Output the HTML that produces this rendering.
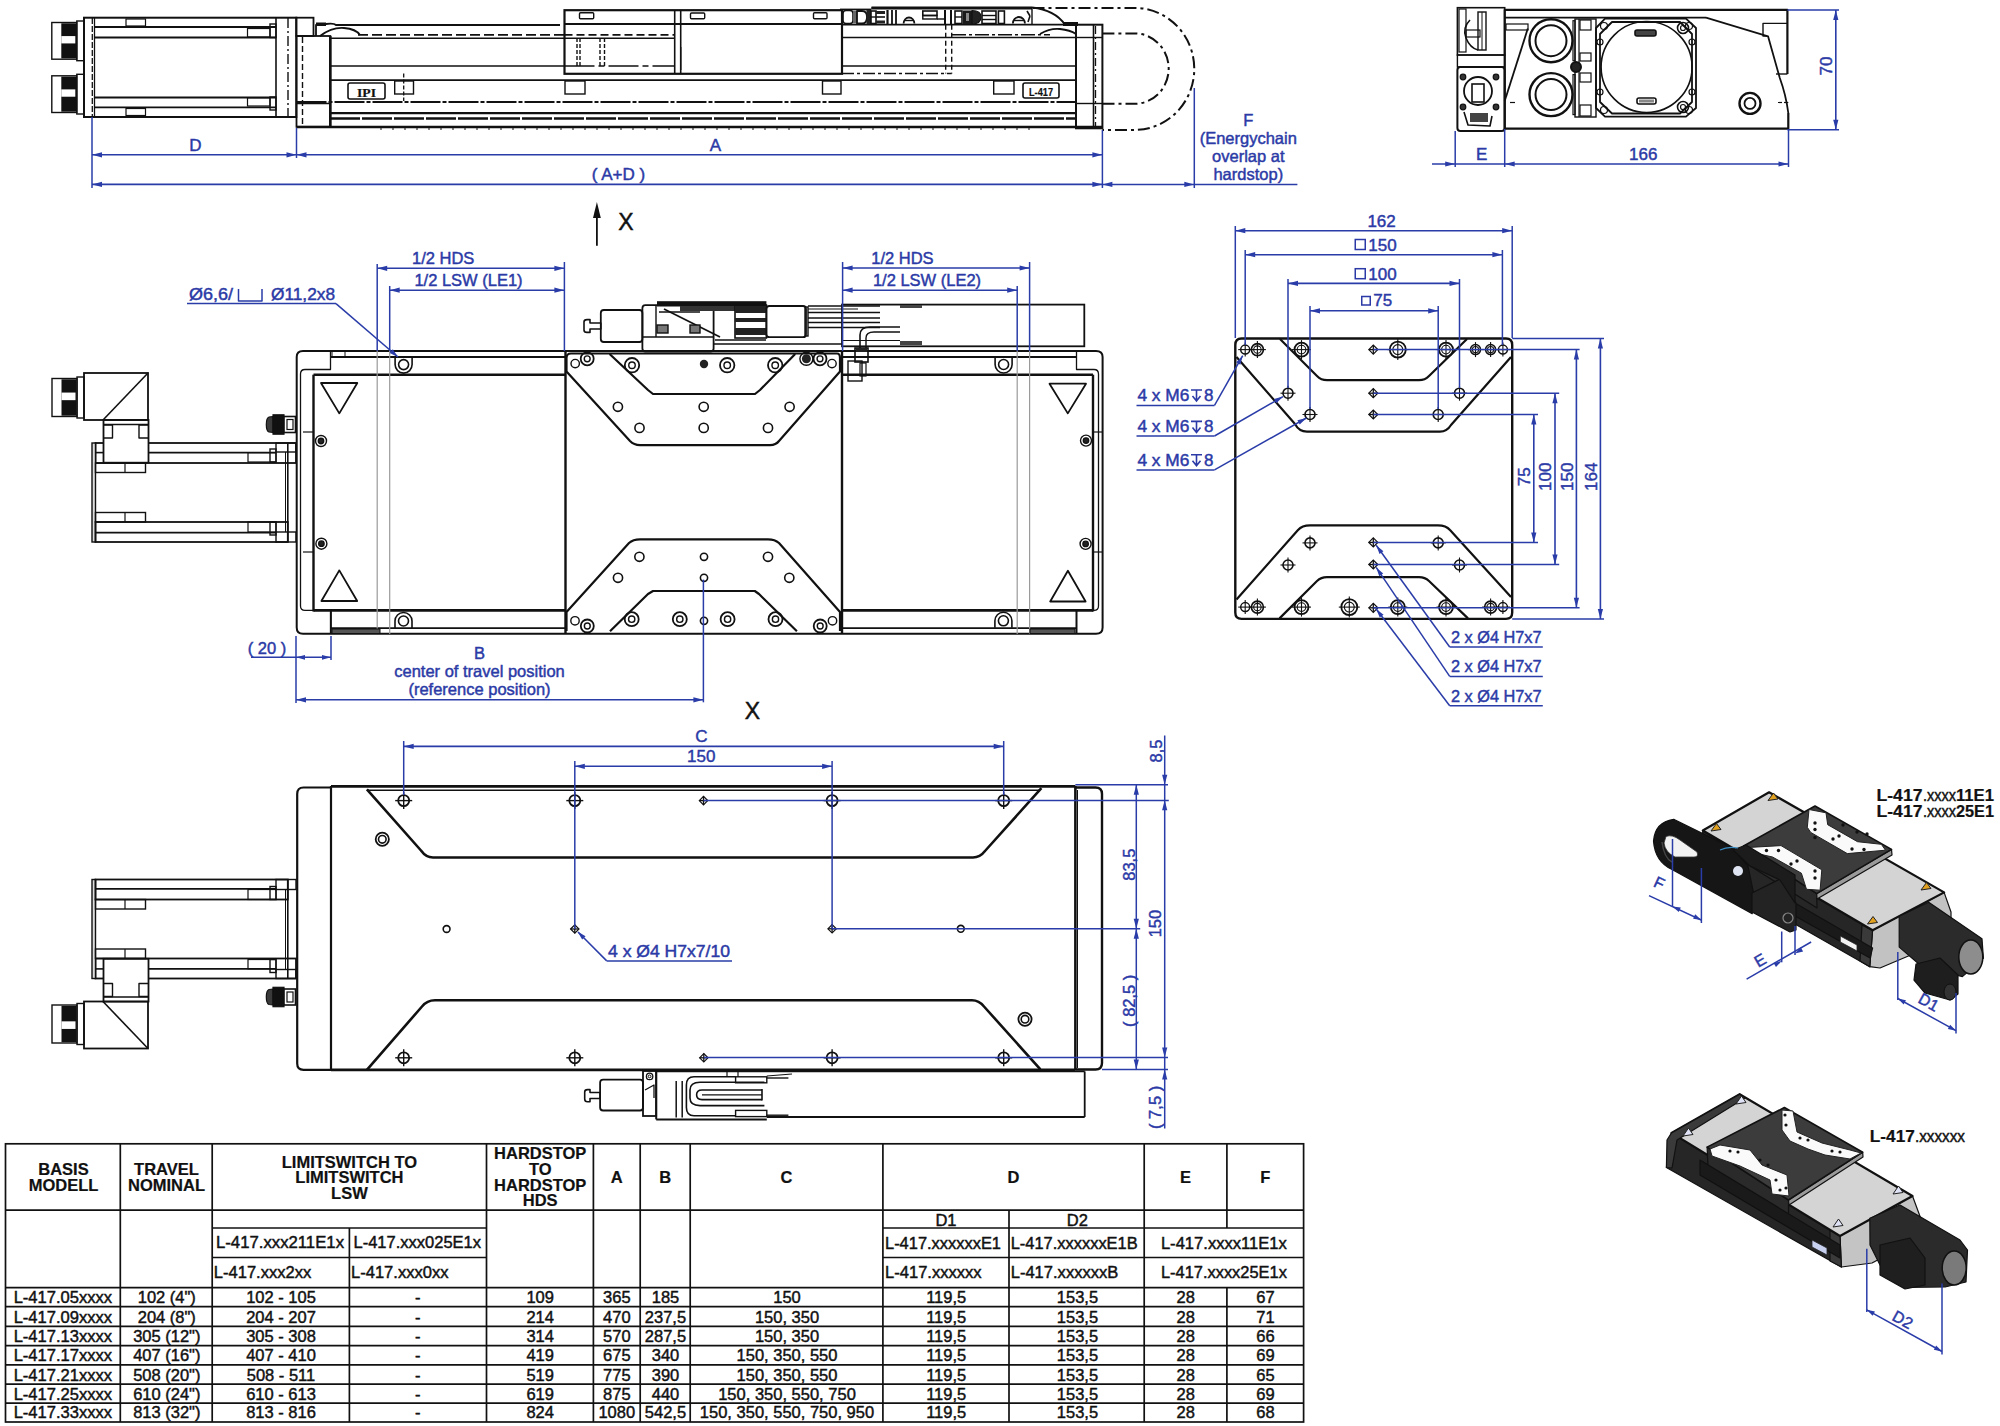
<!DOCTYPE html>
<html><head><meta charset="utf-8"><style>
html,body{margin:0;padding:0;background:#fff;width:2000px;height:1426px;overflow:hidden}
svg{display:block}

</style></head><body>
<svg width="2000" height="1426" viewBox="0 0 2000 1426">
<rect x="0" y="0" width="2000" height="1426" fill="#fff"/>
<rect x="5.5" y="1143.8" width="1298.1" height="278.2" fill="none" stroke="#111" stroke-width="1.7"/>
<line x1="5.5" y1="1210.2" x2="1303.6" y2="1210.2" stroke="#111" stroke-width="1.7" stroke-linecap="butt"/>
<line x1="5.5" y1="1287.7" x2="1303.6" y2="1287.7" stroke="#111" stroke-width="1.7" stroke-linecap="butt"/>
<line x1="5.5" y1="1306.7" x2="1303.6" y2="1306.7" stroke="#111" stroke-width="1.7" stroke-linecap="butt"/>
<line x1="5.5" y1="1326.4" x2="1303.6" y2="1326.4" stroke="#111" stroke-width="1.7" stroke-linecap="butt"/>
<line x1="5.5" y1="1345.6" x2="1303.6" y2="1345.6" stroke="#111" stroke-width="1.7" stroke-linecap="butt"/>
<line x1="5.5" y1="1364.8" x2="1303.6" y2="1364.8" stroke="#111" stroke-width="1.7" stroke-linecap="butt"/>
<line x1="5.5" y1="1384.2" x2="1303.6" y2="1384.2" stroke="#111" stroke-width="1.7" stroke-linecap="butt"/>
<line x1="5.5" y1="1403.2" x2="1303.6" y2="1403.2" stroke="#111" stroke-width="1.7" stroke-linecap="butt"/>
<line x1="212.2" y1="1228" x2="486.5" y2="1228" stroke="#111" stroke-width="1.7" stroke-linecap="butt"/>
<line x1="882.9" y1="1228" x2="1303.6" y2="1228" stroke="#111" stroke-width="1.7" stroke-linecap="butt"/>
<line x1="212.2" y1="1257.5" x2="486.5" y2="1257.5" stroke="#111" stroke-width="1.7" stroke-linecap="butt"/>
<line x1="882.9" y1="1257.5" x2="1303.6" y2="1257.5" stroke="#111" stroke-width="1.7" stroke-linecap="butt"/>
<line x1="120.3" y1="1143.8" x2="120.3" y2="1422" stroke="#111" stroke-width="1.7" stroke-linecap="butt"/>
<line x1="212.2" y1="1143.8" x2="212.2" y2="1422" stroke="#111" stroke-width="1.7" stroke-linecap="butt"/>
<line x1="486.5" y1="1143.8" x2="486.5" y2="1422" stroke="#111" stroke-width="1.7" stroke-linecap="butt"/>
<line x1="593.4" y1="1143.8" x2="593.4" y2="1422" stroke="#111" stroke-width="1.7" stroke-linecap="butt"/>
<line x1="640.2" y1="1143.8" x2="640.2" y2="1422" stroke="#111" stroke-width="1.7" stroke-linecap="butt"/>
<line x1="690.2" y1="1143.8" x2="690.2" y2="1422" stroke="#111" stroke-width="1.7" stroke-linecap="butt"/>
<line x1="882.9" y1="1143.8" x2="882.9" y2="1422" stroke="#111" stroke-width="1.7" stroke-linecap="butt"/>
<line x1="1144.2" y1="1143.8" x2="1144.2" y2="1422" stroke="#111" stroke-width="1.7" stroke-linecap="butt"/>
<line x1="349.4" y1="1228" x2="349.4" y2="1422" stroke="#111" stroke-width="1.7" stroke-linecap="butt"/>
<line x1="1009" y1="1210.2" x2="1009" y2="1422" stroke="#111" stroke-width="1.7" stroke-linecap="butt"/>
<line x1="1226.9" y1="1143.8" x2="1226.9" y2="1228" stroke="#111" stroke-width="1.7" stroke-linecap="butt"/>
<line x1="1226.9" y1="1287.7" x2="1226.9" y2="1422" stroke="#111" stroke-width="1.7" stroke-linecap="butt"/>
<text x="63.5" y="1174.6" font-size="16.5" fill="#111" text-anchor="middle" font-weight="bold" font-family="&quot;Liberation Sans&quot;, sans-serif" stroke="#111" stroke-width="0.2">BASIS</text>
<text x="63.5" y="1190.9" font-size="16.5" fill="#111" text-anchor="middle" font-weight="bold" font-family="&quot;Liberation Sans&quot;, sans-serif" stroke="#111" stroke-width="0.2">MODELL</text>
<text x="166.5" y="1174.6" font-size="16.5" fill="#111" text-anchor="middle" font-weight="bold" font-family="&quot;Liberation Sans&quot;, sans-serif" stroke="#111" stroke-width="0.2">TRAVEL</text>
<text x="166.5" y="1190.9" font-size="16.5" fill="#111" text-anchor="middle" font-weight="bold" font-family="&quot;Liberation Sans&quot;, sans-serif" stroke="#111" stroke-width="0.2">NOMINAL</text>
<text x="349.4" y="1167.5" font-size="16.5" fill="#111" text-anchor="middle" font-weight="bold" font-family="&quot;Liberation Sans&quot;, sans-serif" stroke="#111" stroke-width="0.2">LIMITSWITCH TO</text>
<text x="349.4" y="1183.1" font-size="16.5" fill="#111" text-anchor="middle" font-weight="bold" font-family="&quot;Liberation Sans&quot;, sans-serif" stroke="#111" stroke-width="0.2">LIMITSWITCH</text>
<text x="349.4" y="1198.6" font-size="16.5" fill="#111" text-anchor="middle" font-weight="bold" font-family="&quot;Liberation Sans&quot;, sans-serif" stroke="#111" stroke-width="0.2">LSW</text>
<text x="540.2" y="1159.4" font-size="16.5" fill="#111" text-anchor="middle" font-weight="bold" font-family="&quot;Liberation Sans&quot;, sans-serif" stroke="#111" stroke-width="0.2">HARDSTOP</text>
<text x="540.2" y="1174.95" font-size="16.5" fill="#111" text-anchor="middle" font-weight="bold" font-family="&quot;Liberation Sans&quot;, sans-serif" stroke="#111" stroke-width="0.2">TO</text>
<text x="540.2" y="1190.5" font-size="16.5" fill="#111" text-anchor="middle" font-weight="bold" font-family="&quot;Liberation Sans&quot;, sans-serif" stroke="#111" stroke-width="0.2">HARDSTOP</text>
<text x="540.2" y="1206.05" font-size="16.5" fill="#111" text-anchor="middle" font-weight="bold" font-family="&quot;Liberation Sans&quot;, sans-serif" stroke="#111" stroke-width="0.2">HDS</text>
<text x="616.8" y="1183.2" font-size="16.5" fill="#111" text-anchor="middle" font-weight="bold" font-family="&quot;Liberation Sans&quot;, sans-serif" stroke="#111" stroke-width="0.2">A</text>
<text x="665.2" y="1183.2" font-size="16.5" fill="#111" text-anchor="middle" font-weight="bold" font-family="&quot;Liberation Sans&quot;, sans-serif" stroke="#111" stroke-width="0.2">B</text>
<text x="786.5" y="1183.2" font-size="16.5" fill="#111" text-anchor="middle" font-weight="bold" font-family="&quot;Liberation Sans&quot;, sans-serif" stroke="#111" stroke-width="0.2">C</text>
<text x="1013.5" y="1183.2" font-size="16.5" fill="#111" text-anchor="middle" font-weight="bold" font-family="&quot;Liberation Sans&quot;, sans-serif" stroke="#111" stroke-width="0.2">D</text>
<text x="1185.6" y="1183.2" font-size="16.5" fill="#111" text-anchor="middle" font-weight="bold" font-family="&quot;Liberation Sans&quot;, sans-serif" stroke="#111" stroke-width="0.2">E</text>
<text x="1265.2" y="1183.2" font-size="16.5" fill="#111" text-anchor="middle" font-weight="bold" font-family="&quot;Liberation Sans&quot;, sans-serif" stroke="#111" stroke-width="0.2">F</text>
<text x="216" y="1248.2" font-size="16.5" fill="#111" text-anchor="start" font-weight="normal" font-family="&quot;Liberation Sans&quot;, sans-serif" textLength="128" lengthAdjust="spacingAndGlyphs" stroke="#111" stroke-width="0.45">L-417.xxx211E1x</text>
<text x="353.5" y="1248.2" font-size="16.5" fill="#111" text-anchor="start" font-weight="normal" font-family="&quot;Liberation Sans&quot;, sans-serif" textLength="127.5" lengthAdjust="spacingAndGlyphs" stroke="#111" stroke-width="0.45">L-417.xxx025E1x</text>
<text x="213.8" y="1278" font-size="16.5" fill="#111" text-anchor="start" font-weight="normal" font-family="&quot;Liberation Sans&quot;, sans-serif" textLength="97.5" lengthAdjust="spacingAndGlyphs" stroke="#111" stroke-width="0.45">L-417.xxx2xx</text>
<text x="351" y="1278" font-size="16.5" fill="#111" text-anchor="start" font-weight="normal" font-family="&quot;Liberation Sans&quot;, sans-serif" textLength="97.5" lengthAdjust="spacingAndGlyphs" stroke="#111" stroke-width="0.45">L-417.xxx0xx</text>
<text x="946" y="1225.6" font-size="16.5" fill="#111" text-anchor="middle" font-weight="normal" font-family="&quot;Liberation Sans&quot;, sans-serif" stroke="#111" stroke-width="0.45">D1</text>
<text x="1077.3" y="1225.6" font-size="16.5" fill="#111" text-anchor="middle" font-weight="normal" font-family="&quot;Liberation Sans&quot;, sans-serif" stroke="#111" stroke-width="0.45">D2</text>
<text x="885" y="1248.6" font-size="16.5" fill="#111" text-anchor="start" font-weight="normal" font-family="&quot;Liberation Sans&quot;, sans-serif" textLength="116" lengthAdjust="spacingAndGlyphs" stroke="#111" stroke-width="0.45">L-417.xxxxxxE1</text>
<text x="1010.7" y="1248.6" font-size="16.5" fill="#111" text-anchor="start" font-weight="normal" font-family="&quot;Liberation Sans&quot;, sans-serif" textLength="127" lengthAdjust="spacingAndGlyphs" stroke="#111" stroke-width="0.45">L-417.xxxxxxE1B</text>
<text x="1160.9" y="1248.6" font-size="16.5" fill="#111" text-anchor="start" font-weight="normal" font-family="&quot;Liberation Sans&quot;, sans-serif" textLength="126" lengthAdjust="spacingAndGlyphs" stroke="#111" stroke-width="0.45">L-417.xxxx11E1x</text>
<text x="885" y="1278" font-size="16.5" fill="#111" text-anchor="start" font-weight="normal" font-family="&quot;Liberation Sans&quot;, sans-serif" textLength="96.6" lengthAdjust="spacingAndGlyphs" stroke="#111" stroke-width="0.45">L-417.xxxxxx</text>
<text x="1010.7" y="1278" font-size="16.5" fill="#111" text-anchor="start" font-weight="normal" font-family="&quot;Liberation Sans&quot;, sans-serif" textLength="107.6" lengthAdjust="spacingAndGlyphs" stroke="#111" stroke-width="0.45">L-417.xxxxxxB</text>
<text x="1160.9" y="1278" font-size="16.5" fill="#111" text-anchor="start" font-weight="normal" font-family="&quot;Liberation Sans&quot;, sans-serif" textLength="126" lengthAdjust="spacingAndGlyphs" stroke="#111" stroke-width="0.45">L-417.xxxx25E1x</text>
<text x="62.9" y="1303.1" font-size="16.5" fill="#111" text-anchor="middle" font-weight="normal" font-family="&quot;Liberation Sans&quot;, sans-serif" textLength="98.5" lengthAdjust="spacingAndGlyphs" stroke="#111" stroke-width="0.45">L-417.05xxxx</text>
<text x="166.8" y="1303.1" font-size="16.5" fill="#111" text-anchor="middle" font-weight="normal" font-family="&quot;Liberation Sans&quot;, sans-serif" stroke="#111" stroke-width="0.45">102 (4")</text>
<text x="281" y="1303.1" font-size="16.5" fill="#111" text-anchor="middle" font-weight="normal" font-family="&quot;Liberation Sans&quot;, sans-serif" stroke="#111" stroke-width="0.45">102 - 105</text>
<text x="417.8" y="1303.1" font-size="16.5" fill="#111" text-anchor="middle" font-weight="normal" font-family="&quot;Liberation Sans&quot;, sans-serif" stroke="#111" stroke-width="0.45">-</text>
<text x="540.2" y="1303.1" font-size="16.5" fill="#111" text-anchor="middle" font-weight="normal" font-family="&quot;Liberation Sans&quot;, sans-serif" stroke="#111" stroke-width="0.45">109</text>
<text x="616.8" y="1303.1" font-size="16.5" fill="#111" text-anchor="middle" font-weight="normal" font-family="&quot;Liberation Sans&quot;, sans-serif" stroke="#111" stroke-width="0.45">365</text>
<text x="665.5" y="1303.1" font-size="16.5" fill="#111" text-anchor="middle" font-weight="normal" font-family="&quot;Liberation Sans&quot;, sans-serif" stroke="#111" stroke-width="0.45">185</text>
<text x="787" y="1303.1" font-size="16.5" fill="#111" text-anchor="middle" font-weight="normal" font-family="&quot;Liberation Sans&quot;, sans-serif" stroke="#111" stroke-width="0.45">150</text>
<text x="946.2" y="1303.1" font-size="16.5" fill="#111" text-anchor="middle" font-weight="normal" font-family="&quot;Liberation Sans&quot;, sans-serif" stroke="#111" stroke-width="0.45">119,5</text>
<text x="1077.5" y="1303.1" font-size="16.5" fill="#111" text-anchor="middle" font-weight="normal" font-family="&quot;Liberation Sans&quot;, sans-serif" stroke="#111" stroke-width="0.45">153,5</text>
<text x="1185.7" y="1303.1" font-size="16.5" fill="#111" text-anchor="middle" font-weight="normal" font-family="&quot;Liberation Sans&quot;, sans-serif" stroke="#111" stroke-width="0.45">28</text>
<text x="1265.5" y="1303.1" font-size="16.5" fill="#111" text-anchor="middle" font-weight="normal" font-family="&quot;Liberation Sans&quot;, sans-serif" stroke="#111" stroke-width="0.45">67</text>
<text x="62.9" y="1322.8" font-size="16.5" fill="#111" text-anchor="middle" font-weight="normal" font-family="&quot;Liberation Sans&quot;, sans-serif" textLength="98.5" lengthAdjust="spacingAndGlyphs" stroke="#111" stroke-width="0.45">L-417.09xxxx</text>
<text x="166.8" y="1322.8" font-size="16.5" fill="#111" text-anchor="middle" font-weight="normal" font-family="&quot;Liberation Sans&quot;, sans-serif" stroke="#111" stroke-width="0.45">204 (8")</text>
<text x="281" y="1322.8" font-size="16.5" fill="#111" text-anchor="middle" font-weight="normal" font-family="&quot;Liberation Sans&quot;, sans-serif" stroke="#111" stroke-width="0.45">204 - 207</text>
<text x="417.8" y="1322.8" font-size="16.5" fill="#111" text-anchor="middle" font-weight="normal" font-family="&quot;Liberation Sans&quot;, sans-serif" stroke="#111" stroke-width="0.45">-</text>
<text x="540.2" y="1322.8" font-size="16.5" fill="#111" text-anchor="middle" font-weight="normal" font-family="&quot;Liberation Sans&quot;, sans-serif" stroke="#111" stroke-width="0.45">214</text>
<text x="616.8" y="1322.8" font-size="16.5" fill="#111" text-anchor="middle" font-weight="normal" font-family="&quot;Liberation Sans&quot;, sans-serif" stroke="#111" stroke-width="0.45">470</text>
<text x="665.5" y="1322.8" font-size="16.5" fill="#111" text-anchor="middle" font-weight="normal" font-family="&quot;Liberation Sans&quot;, sans-serif" stroke="#111" stroke-width="0.45">237,5</text>
<text x="787" y="1322.8" font-size="16.5" fill="#111" text-anchor="middle" font-weight="normal" font-family="&quot;Liberation Sans&quot;, sans-serif" stroke="#111" stroke-width="0.45">150, 350</text>
<text x="946.2" y="1322.8" font-size="16.5" fill="#111" text-anchor="middle" font-weight="normal" font-family="&quot;Liberation Sans&quot;, sans-serif" stroke="#111" stroke-width="0.45">119,5</text>
<text x="1077.5" y="1322.8" font-size="16.5" fill="#111" text-anchor="middle" font-weight="normal" font-family="&quot;Liberation Sans&quot;, sans-serif" stroke="#111" stroke-width="0.45">153,5</text>
<text x="1185.7" y="1322.8" font-size="16.5" fill="#111" text-anchor="middle" font-weight="normal" font-family="&quot;Liberation Sans&quot;, sans-serif" stroke="#111" stroke-width="0.45">28</text>
<text x="1265.5" y="1322.8" font-size="16.5" fill="#111" text-anchor="middle" font-weight="normal" font-family="&quot;Liberation Sans&quot;, sans-serif" stroke="#111" stroke-width="0.45">71</text>
<text x="62.9" y="1342" font-size="16.5" fill="#111" text-anchor="middle" font-weight="normal" font-family="&quot;Liberation Sans&quot;, sans-serif" textLength="98.5" lengthAdjust="spacingAndGlyphs" stroke="#111" stroke-width="0.45">L-417.13xxxx</text>
<text x="166.8" y="1342" font-size="16.5" fill="#111" text-anchor="middle" font-weight="normal" font-family="&quot;Liberation Sans&quot;, sans-serif" stroke="#111" stroke-width="0.45">305 (12")</text>
<text x="281" y="1342" font-size="16.5" fill="#111" text-anchor="middle" font-weight="normal" font-family="&quot;Liberation Sans&quot;, sans-serif" stroke="#111" stroke-width="0.45">305 - 308</text>
<text x="417.8" y="1342" font-size="16.5" fill="#111" text-anchor="middle" font-weight="normal" font-family="&quot;Liberation Sans&quot;, sans-serif" stroke="#111" stroke-width="0.45">-</text>
<text x="540.2" y="1342" font-size="16.5" fill="#111" text-anchor="middle" font-weight="normal" font-family="&quot;Liberation Sans&quot;, sans-serif" stroke="#111" stroke-width="0.45">314</text>
<text x="616.8" y="1342" font-size="16.5" fill="#111" text-anchor="middle" font-weight="normal" font-family="&quot;Liberation Sans&quot;, sans-serif" stroke="#111" stroke-width="0.45">570</text>
<text x="665.5" y="1342" font-size="16.5" fill="#111" text-anchor="middle" font-weight="normal" font-family="&quot;Liberation Sans&quot;, sans-serif" stroke="#111" stroke-width="0.45">287,5</text>
<text x="787" y="1342" font-size="16.5" fill="#111" text-anchor="middle" font-weight="normal" font-family="&quot;Liberation Sans&quot;, sans-serif" stroke="#111" stroke-width="0.45">150, 350</text>
<text x="946.2" y="1342" font-size="16.5" fill="#111" text-anchor="middle" font-weight="normal" font-family="&quot;Liberation Sans&quot;, sans-serif" stroke="#111" stroke-width="0.45">119,5</text>
<text x="1077.5" y="1342" font-size="16.5" fill="#111" text-anchor="middle" font-weight="normal" font-family="&quot;Liberation Sans&quot;, sans-serif" stroke="#111" stroke-width="0.45">153,5</text>
<text x="1185.7" y="1342" font-size="16.5" fill="#111" text-anchor="middle" font-weight="normal" font-family="&quot;Liberation Sans&quot;, sans-serif" stroke="#111" stroke-width="0.45">28</text>
<text x="1265.5" y="1342" font-size="16.5" fill="#111" text-anchor="middle" font-weight="normal" font-family="&quot;Liberation Sans&quot;, sans-serif" stroke="#111" stroke-width="0.45">66</text>
<text x="62.9" y="1361.2" font-size="16.5" fill="#111" text-anchor="middle" font-weight="normal" font-family="&quot;Liberation Sans&quot;, sans-serif" textLength="98.5" lengthAdjust="spacingAndGlyphs" stroke="#111" stroke-width="0.45">L-417.17xxxx</text>
<text x="166.8" y="1361.2" font-size="16.5" fill="#111" text-anchor="middle" font-weight="normal" font-family="&quot;Liberation Sans&quot;, sans-serif" stroke="#111" stroke-width="0.45">407 (16")</text>
<text x="281" y="1361.2" font-size="16.5" fill="#111" text-anchor="middle" font-weight="normal" font-family="&quot;Liberation Sans&quot;, sans-serif" stroke="#111" stroke-width="0.45">407 - 410</text>
<text x="417.8" y="1361.2" font-size="16.5" fill="#111" text-anchor="middle" font-weight="normal" font-family="&quot;Liberation Sans&quot;, sans-serif" stroke="#111" stroke-width="0.45">-</text>
<text x="540.2" y="1361.2" font-size="16.5" fill="#111" text-anchor="middle" font-weight="normal" font-family="&quot;Liberation Sans&quot;, sans-serif" stroke="#111" stroke-width="0.45">419</text>
<text x="616.8" y="1361.2" font-size="16.5" fill="#111" text-anchor="middle" font-weight="normal" font-family="&quot;Liberation Sans&quot;, sans-serif" stroke="#111" stroke-width="0.45">675</text>
<text x="665.5" y="1361.2" font-size="16.5" fill="#111" text-anchor="middle" font-weight="normal" font-family="&quot;Liberation Sans&quot;, sans-serif" stroke="#111" stroke-width="0.45">340</text>
<text x="787" y="1361.2" font-size="16.5" fill="#111" text-anchor="middle" font-weight="normal" font-family="&quot;Liberation Sans&quot;, sans-serif" stroke="#111" stroke-width="0.45">150, 350, 550</text>
<text x="946.2" y="1361.2" font-size="16.5" fill="#111" text-anchor="middle" font-weight="normal" font-family="&quot;Liberation Sans&quot;, sans-serif" stroke="#111" stroke-width="0.45">119,5</text>
<text x="1077.5" y="1361.2" font-size="16.5" fill="#111" text-anchor="middle" font-weight="normal" font-family="&quot;Liberation Sans&quot;, sans-serif" stroke="#111" stroke-width="0.45">153,5</text>
<text x="1185.7" y="1361.2" font-size="16.5" fill="#111" text-anchor="middle" font-weight="normal" font-family="&quot;Liberation Sans&quot;, sans-serif" stroke="#111" stroke-width="0.45">28</text>
<text x="1265.5" y="1361.2" font-size="16.5" fill="#111" text-anchor="middle" font-weight="normal" font-family="&quot;Liberation Sans&quot;, sans-serif" stroke="#111" stroke-width="0.45">69</text>
<text x="62.9" y="1380.6" font-size="16.5" fill="#111" text-anchor="middle" font-weight="normal" font-family="&quot;Liberation Sans&quot;, sans-serif" textLength="98.5" lengthAdjust="spacingAndGlyphs" stroke="#111" stroke-width="0.45">L-417.21xxxx</text>
<text x="166.8" y="1380.6" font-size="16.5" fill="#111" text-anchor="middle" font-weight="normal" font-family="&quot;Liberation Sans&quot;, sans-serif" stroke="#111" stroke-width="0.45">508 (20")</text>
<text x="281" y="1380.6" font-size="16.5" fill="#111" text-anchor="middle" font-weight="normal" font-family="&quot;Liberation Sans&quot;, sans-serif" stroke="#111" stroke-width="0.45">508 - 511</text>
<text x="417.8" y="1380.6" font-size="16.5" fill="#111" text-anchor="middle" font-weight="normal" font-family="&quot;Liberation Sans&quot;, sans-serif" stroke="#111" stroke-width="0.45">-</text>
<text x="540.2" y="1380.6" font-size="16.5" fill="#111" text-anchor="middle" font-weight="normal" font-family="&quot;Liberation Sans&quot;, sans-serif" stroke="#111" stroke-width="0.45">519</text>
<text x="616.8" y="1380.6" font-size="16.5" fill="#111" text-anchor="middle" font-weight="normal" font-family="&quot;Liberation Sans&quot;, sans-serif" stroke="#111" stroke-width="0.45">775</text>
<text x="665.5" y="1380.6" font-size="16.5" fill="#111" text-anchor="middle" font-weight="normal" font-family="&quot;Liberation Sans&quot;, sans-serif" stroke="#111" stroke-width="0.45">390</text>
<text x="787" y="1380.6" font-size="16.5" fill="#111" text-anchor="middle" font-weight="normal" font-family="&quot;Liberation Sans&quot;, sans-serif" stroke="#111" stroke-width="0.45">150, 350, 550</text>
<text x="946.2" y="1380.6" font-size="16.5" fill="#111" text-anchor="middle" font-weight="normal" font-family="&quot;Liberation Sans&quot;, sans-serif" stroke="#111" stroke-width="0.45">119,5</text>
<text x="1077.5" y="1380.6" font-size="16.5" fill="#111" text-anchor="middle" font-weight="normal" font-family="&quot;Liberation Sans&quot;, sans-serif" stroke="#111" stroke-width="0.45">153,5</text>
<text x="1185.7" y="1380.6" font-size="16.5" fill="#111" text-anchor="middle" font-weight="normal" font-family="&quot;Liberation Sans&quot;, sans-serif" stroke="#111" stroke-width="0.45">28</text>
<text x="1265.5" y="1380.6" font-size="16.5" fill="#111" text-anchor="middle" font-weight="normal" font-family="&quot;Liberation Sans&quot;, sans-serif" stroke="#111" stroke-width="0.45">65</text>
<text x="62.9" y="1399.6" font-size="16.5" fill="#111" text-anchor="middle" font-weight="normal" font-family="&quot;Liberation Sans&quot;, sans-serif" textLength="98.5" lengthAdjust="spacingAndGlyphs" stroke="#111" stroke-width="0.45">L-417.25xxxx</text>
<text x="166.8" y="1399.6" font-size="16.5" fill="#111" text-anchor="middle" font-weight="normal" font-family="&quot;Liberation Sans&quot;, sans-serif" stroke="#111" stroke-width="0.45">610 (24")</text>
<text x="281" y="1399.6" font-size="16.5" fill="#111" text-anchor="middle" font-weight="normal" font-family="&quot;Liberation Sans&quot;, sans-serif" stroke="#111" stroke-width="0.45">610 - 613</text>
<text x="417.8" y="1399.6" font-size="16.5" fill="#111" text-anchor="middle" font-weight="normal" font-family="&quot;Liberation Sans&quot;, sans-serif" stroke="#111" stroke-width="0.45">-</text>
<text x="540.2" y="1399.6" font-size="16.5" fill="#111" text-anchor="middle" font-weight="normal" font-family="&quot;Liberation Sans&quot;, sans-serif" stroke="#111" stroke-width="0.45">619</text>
<text x="616.8" y="1399.6" font-size="16.5" fill="#111" text-anchor="middle" font-weight="normal" font-family="&quot;Liberation Sans&quot;, sans-serif" stroke="#111" stroke-width="0.45">875</text>
<text x="665.5" y="1399.6" font-size="16.5" fill="#111" text-anchor="middle" font-weight="normal" font-family="&quot;Liberation Sans&quot;, sans-serif" stroke="#111" stroke-width="0.45">440</text>
<text x="787" y="1399.6" font-size="16.5" fill="#111" text-anchor="middle" font-weight="normal" font-family="&quot;Liberation Sans&quot;, sans-serif" stroke="#111" stroke-width="0.45">150, 350, 550, 750</text>
<text x="946.2" y="1399.6" font-size="16.5" fill="#111" text-anchor="middle" font-weight="normal" font-family="&quot;Liberation Sans&quot;, sans-serif" stroke="#111" stroke-width="0.45">119,5</text>
<text x="1077.5" y="1399.6" font-size="16.5" fill="#111" text-anchor="middle" font-weight="normal" font-family="&quot;Liberation Sans&quot;, sans-serif" stroke="#111" stroke-width="0.45">153,5</text>
<text x="1185.7" y="1399.6" font-size="16.5" fill="#111" text-anchor="middle" font-weight="normal" font-family="&quot;Liberation Sans&quot;, sans-serif" stroke="#111" stroke-width="0.45">28</text>
<text x="1265.5" y="1399.6" font-size="16.5" fill="#111" text-anchor="middle" font-weight="normal" font-family="&quot;Liberation Sans&quot;, sans-serif" stroke="#111" stroke-width="0.45">69</text>
<text x="62.9" y="1418.4" font-size="16.5" fill="#111" text-anchor="middle" font-weight="normal" font-family="&quot;Liberation Sans&quot;, sans-serif" textLength="98.5" lengthAdjust="spacingAndGlyphs" stroke="#111" stroke-width="0.45">L-417.33xxxx</text>
<text x="166.8" y="1418.4" font-size="16.5" fill="#111" text-anchor="middle" font-weight="normal" font-family="&quot;Liberation Sans&quot;, sans-serif" stroke="#111" stroke-width="0.45">813 (32")</text>
<text x="281" y="1418.4" font-size="16.5" fill="#111" text-anchor="middle" font-weight="normal" font-family="&quot;Liberation Sans&quot;, sans-serif" stroke="#111" stroke-width="0.45">813 - 816</text>
<text x="417.8" y="1418.4" font-size="16.5" fill="#111" text-anchor="middle" font-weight="normal" font-family="&quot;Liberation Sans&quot;, sans-serif" stroke="#111" stroke-width="0.45">-</text>
<text x="540.2" y="1418.4" font-size="16.5" fill="#111" text-anchor="middle" font-weight="normal" font-family="&quot;Liberation Sans&quot;, sans-serif" stroke="#111" stroke-width="0.45">824</text>
<text x="616.8" y="1418.4" font-size="16.5" fill="#111" text-anchor="middle" font-weight="normal" font-family="&quot;Liberation Sans&quot;, sans-serif" stroke="#111" stroke-width="0.45">1080</text>
<text x="665.5" y="1418.4" font-size="16.5" fill="#111" text-anchor="middle" font-weight="normal" font-family="&quot;Liberation Sans&quot;, sans-serif" stroke="#111" stroke-width="0.45">542,5</text>
<text x="787" y="1418.4" font-size="16.5" fill="#111" text-anchor="middle" font-weight="normal" font-family="&quot;Liberation Sans&quot;, sans-serif" stroke="#111" stroke-width="0.45">150, 350, 550, 750, 950</text>
<text x="946.2" y="1418.4" font-size="16.5" fill="#111" text-anchor="middle" font-weight="normal" font-family="&quot;Liberation Sans&quot;, sans-serif" stroke="#111" stroke-width="0.45">119,5</text>
<text x="1077.5" y="1418.4" font-size="16.5" fill="#111" text-anchor="middle" font-weight="normal" font-family="&quot;Liberation Sans&quot;, sans-serif" stroke="#111" stroke-width="0.45">153,5</text>
<text x="1185.7" y="1418.4" font-size="16.5" fill="#111" text-anchor="middle" font-weight="normal" font-family="&quot;Liberation Sans&quot;, sans-serif" stroke="#111" stroke-width="0.45">28</text>
<text x="1265.5" y="1418.4" font-size="16.5" fill="#111" text-anchor="middle" font-weight="normal" font-family="&quot;Liberation Sans&quot;, sans-serif" stroke="#111" stroke-width="0.45">68</text>
<rect x="51.8" y="22.5" width="25" height="36.7" fill="none" stroke="#111" stroke-width="1.4"/>
<rect x="61.3" y="23.3" width="15" height="35.1" fill="#111"/>
<rect x="61.3" y="36.08" width="14" height="7.34" fill="#fff"/>
<rect x="76.8" y="21" width="7" height="39.7" fill="none" stroke="#111" stroke-width="1.4"/>
<rect x="51.8" y="75.8" width="25" height="36.7" fill="none" stroke="#111" stroke-width="1.4"/>
<rect x="61.3" y="76.6" width="15" height="35.1" fill="#111"/>
<rect x="61.3" y="89.38" width="14" height="7.34" fill="#fff"/>
<rect x="76.8" y="74.3" width="7" height="39.7" fill="none" stroke="#111" stroke-width="1.4"/>
<rect x="84" y="17.7" width="212.3" height="99.3" fill="none" stroke="#111" stroke-width="2.0"/>
<line x1="92.3" y1="18" x2="92.3" y2="117" stroke="#111" stroke-width="1.3" stroke-dasharray="6 2" stroke-linecap="butt"/>
<line x1="94.5" y1="18" x2="94.5" y2="117" stroke="#111" stroke-width="1.3" stroke-linecap="butt"/>
<line x1="94.5" y1="27" x2="276" y2="27" stroke="#111" stroke-width="1.8" stroke-linecap="butt"/>
<line x1="94.5" y1="37.5" x2="276" y2="37.5" stroke="#111" stroke-width="1.8" stroke-linecap="butt"/>
<line x1="94.5" y1="97.5" x2="276" y2="97.5" stroke="#111" stroke-width="1.8" stroke-linecap="butt"/>
<line x1="94.5" y1="107.3" x2="276" y2="107.3" stroke="#111" stroke-width="1.8" stroke-linecap="butt"/>
<rect x="126" y="19" width="19.5" height="7" fill="none" stroke="#111" stroke-width="1.2"/>
<rect x="126" y="108.5" width="19.5" height="7" fill="none" stroke="#111" stroke-width="1.2"/>
<rect x="247.5" y="28.5" width="22.5" height="8.5" fill="none" stroke="#111" stroke-width="1.2"/>
<rect x="247.5" y="97.8" width="22.5" height="8.2" fill="none" stroke="#111" stroke-width="1.2"/>
<rect x="270" y="24" width="6" height="13.5" fill="none" stroke="#111" stroke-width="1.4"/>
<rect x="270" y="97" width="6" height="13" fill="none" stroke="#111" stroke-width="1.4"/>
<line x1="276" y1="17.7" x2="276" y2="117" stroke="#111" stroke-width="1.6" stroke-linecap="butt"/>
<line x1="288" y1="18" x2="288" y2="117" stroke="#111" stroke-width="1.4" stroke-dasharray="10 3 2 3" stroke-linecap="butt"/>
<rect x="296.3" y="17.7" width="17.2" height="18.3" fill="none" stroke="#111" stroke-width="1.8"/>
<rect x="296.5" y="36" width="33.8" height="90.8" fill="none" stroke="#111" stroke-width="1.8"/>
<line x1="302.5" y1="37" x2="302.5" y2="126" stroke="#111" stroke-width="1.4" stroke-dasharray="6 3" stroke-linecap="butt"/>
<line x1="296.5" y1="103.5" x2="330.3" y2="103.5" stroke="#111" stroke-width="1.6" stroke-linecap="butt"/>
<line x1="330.3" y1="36" x2="330.3" y2="127" stroke="#111" stroke-width="2.6" stroke-linecap="butt"/>
<path d="M316,36 L316,25 L326,24 Q334,23 336,25 L560,25" fill="none" stroke="#111" stroke-width="1.8" stroke-linejoin="round" />
<path d="M320,36 Q332,27 344,28 Q356,29 360,35" fill="none" stroke="#111" stroke-width="1.8" stroke-linejoin="round" />
<rect x="316" y="22.5" width="10" height="3.5" fill="#111"/>
<line x1="358" y1="34.8" x2="564.5" y2="34.8" stroke="#111" stroke-width="1.8" stroke-dasharray="10 4" stroke-linecap="butt"/>
<line x1="330" y1="38.2" x2="564.5" y2="38.2" stroke="#111" stroke-width="1.6" stroke-linecap="butt"/>
<line x1="330" y1="66" x2="564.5" y2="66" stroke="#111" stroke-width="1.6" stroke-linecap="butt"/>
<line x1="330" y1="80.2" x2="1076" y2="80.2" stroke="#111" stroke-width="1.8" stroke-linecap="butt"/>
<line x1="296.5" y1="102" x2="1076" y2="102" stroke="#111" stroke-width="2.2" stroke-dasharray="30 2 4 2" stroke-linecap="butt"/>
<line x1="330" y1="113.2" x2="1076" y2="113.2" stroke="#111" stroke-width="2.2" stroke-linecap="butt"/>
<line x1="330" y1="118.5" x2="1076" y2="118.5" stroke="#111" stroke-width="2.4" stroke-dasharray="30 2" stroke-linecap="butt"/>
<line x1="296.5" y1="127" x2="1102.4" y2="127" stroke="#111" stroke-width="2.6" stroke-linecap="butt"/>
<line x1="380" y1="129" x2="1040" y2="129" stroke="#111" stroke-width="1.0" stroke-dasharray="2 10" stroke-linecap="butt"/>
<rect x="348" y="83" width="37" height="16" fill="none" stroke="#111" stroke-width="1.6" rx="2"/>
<text x="366.5" y="96.5" font-size="13" fill="#111" text-anchor="middle" font-weight="bold" font-family="&quot;Liberation Serif&quot;, serif" textLength="19" lengthAdjust="spacingAndGlyphs" stroke="#111" stroke-width="0.2">IPI</text>
<rect x="394.7" y="81" width="18.8" height="13" fill="none" stroke="#111" stroke-width="1.4"/>
<line x1="403.7" y1="73.5" x2="403.7" y2="101" stroke="#111" stroke-width="1.3" stroke-dasharray="4 2" stroke-linecap="butt"/>
<rect x="565" y="81" width="20" height="13" fill="none" stroke="#111" stroke-width="1.4"/>
<rect x="822.5" y="81" width="18.5" height="13" fill="none" stroke="#111" stroke-width="1.4"/>
<rect x="993.7" y="81" width="20.3" height="13" fill="none" stroke="#111" stroke-width="1.4"/>
<rect x="1023" y="83" width="36" height="15" fill="none" stroke="#111" stroke-width="1.6" rx="2"/>
<text x="1041" y="95.5" font-size="11" fill="#111" text-anchor="middle" font-weight="bold" font-family="&quot;Liberation Sans&quot;, sans-serif" textLength="24" lengthAdjust="spacingAndGlyphs" stroke="#111" stroke-width="0.2">L-417</text>
<rect x="564.5" y="10.2" width="277.5" height="63.6" fill="none" stroke="#111" stroke-width="2.2"/>
<line x1="674.7" y1="10.2" x2="674.7" y2="73.8" stroke="#111" stroke-width="1.6" stroke-linecap="butt"/>
<line x1="680.7" y1="10.2" x2="680.7" y2="73.8" stroke="#111" stroke-width="1.6" stroke-linecap="butt"/>
<line x1="564.5" y1="24" x2="842" y2="24" stroke="#111" stroke-width="1.8" stroke-linecap="butt"/>
<line x1="564.5" y1="34.8" x2="674" y2="34.8" stroke="#111" stroke-width="1.8" stroke-dasharray="8 4" stroke-linecap="butt"/>
<line x1="564.5" y1="38.2" x2="674" y2="38.2" stroke="#111" stroke-width="1.6" stroke-linecap="butt"/>
<line x1="564.5" y1="66" x2="674" y2="66" stroke="#111" stroke-width="1.6" stroke-dasharray="30 4 6 4" stroke-linecap="butt"/>
<line x1="577" y1="38" x2="577" y2="66" stroke="#111" stroke-width="1.4" stroke-dasharray="4 2" stroke-linecap="butt"/>
<line x1="580" y1="38" x2="580" y2="66" stroke="#111" stroke-width="1.4" stroke-dasharray="4 2" stroke-linecap="butt"/>
<line x1="600" y1="38" x2="600" y2="66" stroke="#111" stroke-width="1.4" stroke-dasharray="4 2" stroke-linecap="butt"/>
<line x1="604.5" y1="38" x2="604.5" y2="66" stroke="#111" stroke-width="1.4" stroke-dasharray="4 2" stroke-linecap="butt"/>
<line x1="680.7" y1="47" x2="680.7" y2="70" stroke="#111" stroke-width="1.4" stroke-linecap="butt"/>
<rect x="579.5" y="12.7" width="14.2" height="6" fill="none" stroke="#111" stroke-width="1.4" rx="1"/>
<rect x="690.5" y="13" width="14.2" height="5.7" fill="none" stroke="#111" stroke-width="1.4" rx="1"/>
<rect x="813.5" y="12.7" width="13.5" height="6" fill="none" stroke="#111" stroke-width="1.4" rx="1"/>
<line x1="842" y1="24.7" x2="1076" y2="24.7" stroke="#111" stroke-width="1.8" stroke-linecap="butt"/>
<line x1="842" y1="37.5" x2="1076" y2="37.5" stroke="#111" stroke-width="1.6" stroke-linecap="butt"/>
<line x1="842" y1="66" x2="1076" y2="66" stroke="#111" stroke-width="1.6" stroke-linecap="butt"/>
<line x1="842" y1="73.5" x2="951.7" y2="73.5" stroke="#111" stroke-width="1.4" stroke-dasharray="12 3 3 3" stroke-linecap="butt"/>
<line x1="945.7" y1="24.7" x2="945.7" y2="73.5" stroke="#111" stroke-width="1.4" stroke-dasharray="5 3" stroke-linecap="butt"/>
<line x1="951.7" y1="24.7" x2="951.7" y2="73.5" stroke="#111" stroke-width="1.4" stroke-dasharray="5 3" stroke-linecap="butt"/>
<line x1="952" y1="34.8" x2="1050" y2="34.8" stroke="#111" stroke-width="1.4" stroke-dasharray="14 3 3 3" stroke-linecap="butt"/>
<line x1="871.5" y1="8" x2="1032" y2="8" stroke="#111" stroke-width="2.8" stroke-linecap="butt"/>
<line x1="840" y1="9.5" x2="871.5" y2="9.5" stroke="#111" stroke-width="1.8" stroke-linecap="butt"/>
<path d="M1032,7.5 Q1055,10 1065,24.7" fill="none" stroke="#111" stroke-width="1.8" stroke-linejoin="round" />
<rect x="843" y="10.5" width="10" height="13" fill="none" stroke="#111" stroke-width="1.6" rx="3"/>
<rect x="853" y="11" width="4" height="12.5" fill="#666"/>
<path d="M857,11 L862,11 Q867,11 867,17 Q867,23.5 862,23.5 L857,23.5 Z" fill="none" stroke="#111" stroke-width="1.8" stroke-linejoin="round" />
<rect x="866.5" y="10" width="4.5" height="14" fill="#222"/>
<rect x="871" y="11" width="5" height="12.5" fill="none" stroke="#111" stroke-width="1.6"/>
<line x1="871" y1="17" x2="876" y2="17" stroke="#111" stroke-width="1.4" stroke-linecap="butt"/>
<rect x="876" y="11" width="9" height="3" fill="#222"/>
<rect x="876" y="20.5" width="9" height="3" fill="#222"/>
<line x1="876" y1="17" x2="885" y2="17" stroke="#111" stroke-width="1.6" stroke-linecap="butt"/>
<line x1="887.5" y1="10" x2="887.5" y2="24" stroke="#111" stroke-width="2.2" stroke-linecap="butt"/>
<line x1="892" y1="10" x2="892" y2="24" stroke="#111" stroke-width="1.8" stroke-linecap="butt"/>
<line x1="896" y1="10" x2="896" y2="24" stroke="#111" stroke-width="1.8" stroke-linecap="butt"/>
<path d="M903.6,23.5 A5.4,6 0 0 1 914.4,23.5" fill="none" stroke="#111" stroke-width="1.8" stroke-linejoin="round" />
<line x1="904.5" y1="20.5" x2="913.5" y2="20.5" stroke="#111" stroke-width="1.4" stroke-linecap="butt"/>
<rect x="922.8" y="11" width="14.2" height="4.5" fill="none" stroke="#111" stroke-width="1.6"/>
<rect x="922.8" y="15.5" width="14.2" height="3.5" fill="none" stroke="#111" stroke-width="1.4"/>
<line x1="937" y1="19" x2="945" y2="19" stroke="#111" stroke-width="1.4" stroke-linecap="butt"/>
<line x1="945" y1="10" x2="945" y2="24" stroke="#111" stroke-width="2.0" stroke-linecap="butt"/>
<line x1="951" y1="10" x2="951" y2="24" stroke="#111" stroke-width="2.0" stroke-linecap="butt"/>
<rect x="955" y="11" width="7" height="12.5" fill="none" stroke="#111" stroke-width="1.6"/>
<line x1="955" y1="17" x2="962" y2="17" stroke="#111" stroke-width="1.4" stroke-linecap="butt"/>
<rect x="963" y="10.5" width="9" height="13.5" fill="#1a1a1a"/>
<rect x="966" y="13" width="3" height="8" fill="#888"/>
<path d="M972,10.5 Q981,10.5 981,17 Q981,24 972,24 Z" fill="#222" stroke="#111" stroke-width="1.2" stroke-linejoin="round" />
<rect x="982" y="11" width="14" height="12.5" fill="none" stroke="#111" stroke-width="1.6"/>
<line x1="982" y1="15.5" x2="996" y2="15.5" stroke="#111" stroke-width="1.4" stroke-linecap="butt"/>
<line x1="982" y1="19.5" x2="996" y2="19.5" stroke="#111" stroke-width="1.4" stroke-linecap="butt"/>
<rect x="998.4" y="11" width="6" height="12.5" fill="none" stroke="#111" stroke-width="1.6"/>
<path d="M1012.9,23.5 A6,6.5 0 0 1 1024.9,23.5" fill="none" stroke="#111" stroke-width="1.8" stroke-linejoin="round" />
<line x1="1013.5" y1="20.5" x2="1024.5" y2="20.5" stroke="#111" stroke-width="1.4" stroke-linecap="butt"/>
<line x1="1027" y1="11" x2="1030" y2="16" stroke="#111" stroke-width="1.6" stroke-linecap="butt"/>
<line x1="1030" y1="16" x2="1028" y2="22" stroke="#111" stroke-width="1.6" stroke-linecap="butt"/>
<line x1="1032" y1="9" x2="1032" y2="24.7" stroke="#111" stroke-width="1.4" stroke-linecap="butt"/>
<path d="M1040,34 Q1050,28 1060,29 Q1070,30 1076,34" fill="none" stroke="#111" stroke-width="1.8" stroke-linejoin="round" />
<rect x="1063" y="22" width="15" height="4" fill="#111"/>
<rect x="1076" y="24.7" width="26.4" height="103.6" fill="none" stroke="#111" stroke-width="2.0"/>
<line x1="1093.5" y1="24.7" x2="1093.5" y2="128.3" stroke="#111" stroke-width="1.6" stroke-linecap="butt"/>
<line x1="1095.5" y1="26" x2="1095.5" y2="127" stroke="#111" stroke-width="1.3" stroke-dasharray="8 3 2 3" stroke-linecap="butt"/>
<line x1="1076" y1="37.5" x2="1102.4" y2="37.5" stroke="#111" stroke-width="1.4" stroke-linecap="butt"/>
<line x1="1076" y1="103.5" x2="1102.4" y2="103.5" stroke="#111" stroke-width="1.4" stroke-linecap="butt"/>
<path d="M871.5,7.9 L1134.7,7.9 A59.6,61 0 0 1 1134.7,129.9 L1102.4,129.9" fill="none" stroke="#111" stroke-width="2.0" stroke-linejoin="round" stroke-dasharray="12 4 3 4" />
<path d="M1102.4,33.4 L1134.7,33.4 A34,35.2 0 0 1 1134.7,103.8 L1102.4,103.8" fill="none" stroke="#111" stroke-width="2.0" stroke-linejoin="round" stroke-dasharray="12 4 3 4" />
<line x1="92" y1="117" x2="92" y2="188" stroke="#2a3ca8" stroke-width="1.5" stroke-linecap="butt"/>
<line x1="296.5" y1="128" x2="296.5" y2="158" stroke="#2a3ca8" stroke-width="1.5" stroke-linecap="butt"/>
<line x1="1102.4" y1="130" x2="1102.4" y2="188" stroke="#2a3ca8" stroke-width="1.5" stroke-linecap="butt"/>
<line x1="1194.3" y1="88" x2="1194.3" y2="188" stroke="#2a3ca8" stroke-width="1.5" stroke-linecap="butt"/>
<line x1="92" y1="154.8" x2="296.5" y2="154.8" stroke="#2a3ca8" stroke-width="1.6" stroke-linecap="butt"/>
<polygon points="92,154.8 102,152.2 102,157.4" fill="#2a3ca8"/>
<polygon points="296.5,154.8 286.5,157.4 286.5,152.2" fill="#2a3ca8"/>
<line x1="296.5" y1="154.8" x2="1102.4" y2="154.8" stroke="#2a3ca8" stroke-width="1.6" stroke-linecap="butt"/>
<polygon points="296.5,154.8 306.5,152.2 306.5,157.4" fill="#2a3ca8"/>
<polygon points="1102.4,154.8 1092.4,157.4 1092.4,152.2" fill="#2a3ca8"/>
<line x1="92" y1="184.4" x2="1102.4" y2="184.4" stroke="#2a3ca8" stroke-width="1.6" stroke-linecap="butt"/>
<polygon points="92,184.4 102,181.8 102,187" fill="#2a3ca8"/>
<polygon points="1102.4,184.4 1092.4,187 1092.4,181.8" fill="#2a3ca8"/>
<line x1="1102.4" y1="184.4" x2="1297.4" y2="184.4" stroke="#2a3ca8" stroke-width="1.5" stroke-linecap="butt"/>
<polygon points="1102.4,184.4 1112.4,181.8 1112.4,187" fill="#2a3ca8"/>
<polygon points="1194.3,184.4 1184.3,187 1184.3,181.8" fill="#2a3ca8"/>
<text x="195.3" y="150.8" font-size="17" fill="#2b3aa6" text-anchor="middle" font-weight="normal" font-family="&quot;Liberation Sans&quot;, sans-serif" stroke="#2b3aa6" stroke-width="0.45">D</text>
<text x="715.5" y="150.8" font-size="17" fill="#2b3aa6" text-anchor="middle" font-weight="normal" font-family="&quot;Liberation Sans&quot;, sans-serif" stroke="#2b3aa6" stroke-width="0.45">A</text>
<text x="618.5" y="180.4" font-size="17" fill="#2b3aa6" text-anchor="middle" font-weight="normal" font-family="&quot;Liberation Sans&quot;, sans-serif" stroke="#2b3aa6" stroke-width="0.45">( A+D )</text>
<text x="1248.3" y="125.5" font-size="16.5" fill="#2b3aa6" text-anchor="middle" font-weight="normal" font-family="&quot;Liberation Sans&quot;, sans-serif" stroke="#2b3aa6" stroke-width="0.45">F</text>
<text x="1248.3" y="144" font-size="16.5" fill="#2b3aa6" text-anchor="middle" font-weight="normal" font-family="&quot;Liberation Sans&quot;, sans-serif" stroke="#2b3aa6" stroke-width="0.45">(Energychain</text>
<text x="1248.3" y="162.3" font-size="16.5" fill="#2b3aa6" text-anchor="middle" font-weight="normal" font-family="&quot;Liberation Sans&quot;, sans-serif" stroke="#2b3aa6" stroke-width="0.45">overlap at</text>
<text x="1248.3" y="180.3" font-size="16.5" fill="#2b3aa6" text-anchor="middle" font-weight="normal" font-family="&quot;Liberation Sans&quot;, sans-serif" stroke="#2b3aa6" stroke-width="0.45">hardstop)</text>
<rect x="1457.4" y="7.7" width="47.3" height="47.3" fill="none" stroke="#111" stroke-width="1.6"/>
<rect x="1459" y="9" width="7" height="43" fill="none" stroke="#111" stroke-width="1.2"/>
<path d="M1470,20 Q1462,28 1466,38 Q1470,48 1478,50" fill="none" stroke="#111" stroke-width="1.6" stroke-linejoin="round" />
<rect x="1466" y="30" width="14" height="7" fill="none" stroke="#111" stroke-width="1.2"/>
<rect x="1478" y="12" width="8" height="38" fill="none" stroke="#111" stroke-width="1.4"/>
<line x1="1482" y1="12" x2="1482" y2="50" stroke="#111" stroke-width="1.0" stroke-linecap="butt"/>
<rect x="1457.4" y="55" width="47.3" height="12" fill="none" stroke="#111" stroke-width="1.4"/>
<rect x="1457.4" y="67" width="47.3" height="64" fill="none" stroke="#111" stroke-width="2.0" rx="3"/>
<circle cx="1478" cy="91" r="14" fill="none" stroke="#111" stroke-width="1.8"/>
<rect x="1472" y="84" width="12" height="18" fill="none" stroke="#111" stroke-width="1.6"/>
<circle cx="1463" cy="77" r="2.8" fill="#333" stroke="#111" stroke-width="1.2"/>
<circle cx="1496" cy="77" r="2.8" fill="#333" stroke="#111" stroke-width="1.2"/>
<circle cx="1463" cy="107" r="2.8" fill="#333" stroke="#111" stroke-width="1.2"/>
<circle cx="1496" cy="107" r="2.8" fill="#333" stroke="#111" stroke-width="1.2"/>
<path d="M1464,112 L1468,125 L1490,126 L1492,116" fill="none" stroke="#111" stroke-width="1.6" stroke-linejoin="round" />
<rect x="1470" y="113" width="18" height="9" fill="#444"/>
<path d="M1787.4,74 L1787.4,9.9 L1504.7,9.9 L1504.7,128.7 L1788.3,128.7 L1788.3,113" fill="none" stroke="#111" stroke-width="2.2" stroke-linejoin="round" />
<line x1="1504.7" y1="17.6" x2="1706" y2="17.6" stroke="#111" stroke-width="1.8" stroke-linecap="butt"/>
<path d="M1706,17.6 L1768.1,36.4 L1779.8,78 Q1786,95 1788.3,113" fill="none" stroke="#111" stroke-width="1.8" stroke-linejoin="round" />
<line x1="1784" y1="102.5" x2="1788.3" y2="102.5" stroke="#111" stroke-width="1.2" stroke-linecap="butt"/>
<polyline points="1527.8,28.6 1504.7,101" fill="none" stroke="#111" stroke-width="1.8" stroke-linejoin="round"/>
<rect x="1506" y="24" width="22" height="6" fill="none" stroke="#111" stroke-width="1.2"/>
<polyline points="1787,23.4 1763,23.4 1763,36 1767,36" fill="none" stroke="#111" stroke-width="1.4" stroke-linejoin="round"/>
<line x1="1776" y1="74" x2="1787.4" y2="74" stroke="#111" stroke-width="1.4" stroke-linecap="butt"/>
<circle cx="1551" cy="40.7" r="21.5" fill="none" stroke="#111" stroke-width="2.4"/>
<circle cx="1551" cy="40.7" r="15.5" fill="none" stroke="#111" stroke-width="2.0"/>
<rect x="1573" y="20.7" width="2" height="40" fill="none" stroke="#111" stroke-width="1.2"/>
<circle cx="1551" cy="94.6" r="21.5" fill="none" stroke="#111" stroke-width="2.4"/>
<circle cx="1551" cy="94.6" r="15.5" fill="none" stroke="#111" stroke-width="2.0"/>
<rect x="1573" y="74.6" width="2" height="40" fill="none" stroke="#111" stroke-width="1.2"/>
<rect x="1575" y="19" width="21" height="98" fill="none" stroke="#111" stroke-width="1.4"/>
<line x1="1579" y1="19" x2="1579" y2="117" stroke="#111" stroke-width="1.2" stroke-linecap="butt"/>
<rect x="1580" y="20" width="11" height="10" fill="none" stroke="#111" stroke-width="1.2"/>
<rect x="1580" y="53" width="11" height="8" fill="none" stroke="#111" stroke-width="1.2"/>
<rect x="1580" y="73" width="11" height="9" fill="none" stroke="#111" stroke-width="1.2"/>
<rect x="1580" y="105" width="11" height="11" fill="none" stroke="#111" stroke-width="1.2"/>
<circle cx="1576" cy="67" r="5" fill="#222" stroke="#111" stroke-width="2.0"/>
<polygon points="1605,18.7 1686,18.7 1696,28 1696,108 1686,116.6 1605,116.6 1596,108 1596,28" fill="none" stroke="#111" stroke-width="1.8" stroke-linejoin="round"/>
<polygon points="1612,22 1680,22 1692,34 1692,102 1680,113.5 1612,113.5 1600,102 1600,34" fill="none" stroke="#111" stroke-width="1.8" stroke-linejoin="round"/>
<circle cx="1646.6" cy="67" r="45.5" fill="none" stroke="#111" stroke-width="1.6"/>
<rect x="1635" y="30" width="21" height="6" fill="#444" stroke="#111" stroke-width="1.6" rx="2"/>
<rect x="1637" y="98" width="19" height="6" fill="#fff" stroke="#111" stroke-width="1.6" rx="2"/>
<rect x="1639" y="99.5" width="15" height="3" fill="#888"/>
<circle cx="1604" cy="26" r="3.5" fill="none" stroke="#111" stroke-width="1.2"/>
<circle cx="1689" cy="26" r="3.5" fill="none" stroke="#111" stroke-width="1.2"/>
<circle cx="1604" cy="110" r="3.5" fill="none" stroke="#111" stroke-width="1.2"/>
<circle cx="1689" cy="110" r="3.5" fill="none" stroke="#111" stroke-width="1.2"/>
<circle cx="1683" cy="28" r="5.5" fill="none" stroke="#111" stroke-width="1.6"/>
<circle cx="1683" cy="28" r="2.5" fill="none" stroke="#111" stroke-width="1.2"/>
<circle cx="1683" cy="107" r="5.5" fill="none" stroke="#111" stroke-width="1.6"/>
<circle cx="1683" cy="107" r="2.5" fill="none" stroke="#111" stroke-width="1.2"/>
<circle cx="1600" cy="42" r="3" fill="none" stroke="#111" stroke-width="1.2"/>
<circle cx="1692" cy="42" r="3" fill="none" stroke="#111" stroke-width="1.2"/>
<circle cx="1600" cy="92" r="3" fill="none" stroke="#111" stroke-width="1.2"/>
<circle cx="1692" cy="92" r="3" fill="none" stroke="#111" stroke-width="1.2"/>
<circle cx="1750" cy="103.4" r="10.5" fill="none" stroke="#111" stroke-width="2.4"/>
<circle cx="1750" cy="103.4" r="5.5" fill="none" stroke="#111" stroke-width="1.8"/>
<line x1="1510" y1="102.5" x2="1515" y2="102.5" stroke="#111" stroke-width="1.2" stroke-linecap="butt"/>
<line x1="1778" y1="102.5" x2="1782" y2="102.5" stroke="#111" stroke-width="1.2" stroke-linecap="butt"/>
<line x1="1787.4" y1="9.9" x2="1839" y2="9.9" stroke="#2a3ca8" stroke-width="1.5" stroke-linecap="butt"/>
<line x1="1787.4" y1="129.8" x2="1839" y2="129.8" stroke="#2a3ca8" stroke-width="1.5" stroke-linecap="butt"/>
<line x1="1835.8" y1="9.9" x2="1835.8" y2="129.8" stroke="#2a3ca8" stroke-width="1.6" stroke-linecap="butt"/>
<polygon points="1835.8,9.9 1838.4,19.9 1833.2,19.9" fill="#2a3ca8"/>
<polygon points="1835.8,129.8 1833.2,119.8 1838.4,119.8" fill="#2a3ca8"/>
<text x="1832" y="66" font-size="17" fill="#2b3aa6" text-anchor="middle" font-weight="normal" font-family="&quot;Liberation Sans&quot;, sans-serif" transform="rotate(-90 1832 66)" stroke="#2b3aa6" stroke-width="0.45">70</text>
<line x1="1455.2" y1="131" x2="1455.2" y2="167" stroke="#2a3ca8" stroke-width="1.5" stroke-linecap="butt"/>
<line x1="1504.7" y1="129" x2="1504.7" y2="167" stroke="#2a3ca8" stroke-width="1.5" stroke-linecap="butt"/>
<line x1="1788.5" y1="129" x2="1788.5" y2="167" stroke="#2a3ca8" stroke-width="1.5" stroke-linecap="butt"/>
<line x1="1432" y1="164" x2="1455.2" y2="164" stroke="#2a3ca8" stroke-width="1.5" stroke-linecap="butt"/>
<polygon points="1455.2,164 1445.2,166.6 1445.2,161.4" fill="#2a3ca8"/>
<line x1="1455.2" y1="164" x2="1504.7" y2="164" stroke="#2a3ca8" stroke-width="1.6" stroke-linecap="butt"/>
<line x1="1504.7" y1="164" x2="1788.5" y2="164" stroke="#2a3ca8" stroke-width="1.6" stroke-linecap="butt"/>
<polygon points="1504.7,164 1514.7,161.4 1514.7,166.6" fill="#2a3ca8"/>
<polygon points="1788.5,164 1778.5,166.6 1778.5,161.4" fill="#2a3ca8"/>
<text x="1481.6" y="159.5" font-size="17" fill="#2b3aa6" text-anchor="middle" font-weight="normal" font-family="&quot;Liberation Sans&quot;, sans-serif" stroke="#2b3aa6" stroke-width="0.45">E</text>
<text x="1643.3" y="159.5" font-size="17" fill="#2b3aa6" text-anchor="middle" font-weight="normal" font-family="&quot;Liberation Sans&quot;, sans-serif" stroke="#2b3aa6" stroke-width="0.45">166</text>
<rect x="52" y="378.5" width="25" height="38" fill="none" stroke="#111" stroke-width="1.4"/>
<rect x="61.5" y="379.3" width="15" height="36.4" fill="#111"/>
<rect x="61.5" y="392.56" width="14" height="7.6" fill="#fff"/>
<rect x="77" y="377" width="7" height="41" fill="none" stroke="#111" stroke-width="1.4"/>
<rect x="84" y="373" width="64" height="47" fill="none" stroke="#111" stroke-width="1.8"/>
<line x1="103" y1="420" x2="148" y2="373" stroke="#111" stroke-width="1.6" stroke-linecap="butt"/>
<rect x="95.5" y="443" width="200.5" height="20" fill="none" stroke="#111" stroke-width="1.8"/>
<rect x="103.5" y="421" width="45" height="41" fill="#fff"/>
<rect x="103.5" y="420" width="45" height="42.7" fill="none" stroke="#111" stroke-width="1.8"/>
<line x1="103.5" y1="424.5" x2="148.5" y2="424.5" stroke="#111" stroke-width="1.4" stroke-linecap="butt"/>
<polyline points="104,425 112.5,425 112.5,438 104,438" fill="none" stroke="#111" stroke-width="1.4" stroke-linejoin="round"/>
<polyline points="148,425 139,425 139,438 148,438" fill="none" stroke="#111" stroke-width="1.4" stroke-linejoin="round"/>
<rect x="92" y="443" width="3.5" height="99" fill="#ddd" stroke="#111" stroke-width="1.4"/>
<line x1="95.5" y1="452.6" x2="103.5" y2="452.6" stroke="#111" stroke-width="1.6" stroke-linecap="butt"/>
<line x1="148.5" y1="452.6" x2="276" y2="452.6" stroke="#111" stroke-width="1.6" stroke-linecap="butt"/>
<rect x="95.5" y="463" width="50" height="9.5" fill="none" stroke="#111" stroke-width="1.4"/>
<line x1="125" y1="463" x2="125" y2="472.5" stroke="#111" stroke-width="1.2" stroke-linecap="butt"/>
<rect x="95.5" y="512.5" width="50" height="9.5" fill="none" stroke="#111" stroke-width="1.4"/>
<line x1="125" y1="512.5" x2="125" y2="522" stroke="#111" stroke-width="1.2" stroke-linecap="butt"/>
<rect x="95.5" y="522" width="192.3" height="20" fill="none" stroke="#111" stroke-width="1.8"/>
<line x1="95.5" y1="532.6" x2="276" y2="532.6" stroke="#111" stroke-width="1.6" stroke-linecap="butt"/>
<rect x="248" y="452.6" width="28" height="9.4" fill="none" stroke="#111" stroke-width="1.2"/>
<rect x="270" y="449" width="6" height="13" fill="none" stroke="#111" stroke-width="1.4"/>
<rect x="248" y="522" width="28" height="10" fill="none" stroke="#111" stroke-width="1.2"/>
<rect x="270" y="522" width="6" height="13" fill="none" stroke="#111" stroke-width="1.4"/>
<line x1="287.8" y1="443" x2="287.8" y2="542" stroke="#111" stroke-width="1.6" stroke-linecap="butt"/>
<rect x="276" y="443" width="20" height="9" fill="none" stroke="#111" stroke-width="1.4"/>
<rect x="276" y="532" width="20" height="10" fill="none" stroke="#111" stroke-width="1.4"/>
<line x1="285.5" y1="452" x2="285.5" y2="532" stroke="#111" stroke-width="1.0" stroke-linecap="butt"/>
<path d="M273,416.5 L269,417 Q266.3,418 266.3,424.5 Q266.3,431 269,432 L273,432.5 Z" fill="#3a3a3a" stroke="#111" stroke-width="1.2" stroke-linejoin="round" />
<rect x="273" y="414.8" width="11" height="19.4" fill="#111" stroke="#111" stroke-width="1.2"/>
<rect x="284" y="416.5" width="11.5" height="16" fill="#fff" stroke="#111" stroke-width="1.6"/>
<rect x="287" y="419.5" width="6" height="10" fill="none" stroke="#111" stroke-width="1.2"/>
<path d="M296.7,357 Q296.7,351 303,351 L1096,351 Q1102.6,351 1102.6,357 L1102.6,627.5 Q1102.6,633.8 1096,633.8 L303,633.8 Q296.7,633.8 296.7,627.5 Z" fill="none" stroke="#111" stroke-width="2.0" stroke-linejoin="round" />
<path d="M330.5,351 L330.5,369.5 L305,369.5 Q300.5,369.5 300.5,374 L300.5,606 Q300.5,610.4 305,610.4 L330.5,610.4 L330.5,634" fill="none" stroke="#111" stroke-width="1.3" stroke-linejoin="round" />
<line x1="313.5" y1="374.7" x2="313.5" y2="611.5" stroke="#111" stroke-width="2.4" stroke-linecap="butt"/>
<line x1="1093" y1="374.7" x2="1093" y2="611.5" stroke="#111" stroke-width="2.4" stroke-linecap="butt"/>
<path d="M1076.5,351 L1076.5,369.5 L1094,369.5 Q1098.5,369.5 1098.5,374 L1098.5,606 Q1098.5,610.4 1094,610.4 L1076.5,610.4 L1076.5,634" fill="none" stroke="#111" stroke-width="1.3" stroke-linejoin="round" />
<line x1="303" y1="432" x2="313.5" y2="432" stroke="#111" stroke-width="1.2" stroke-linecap="butt"/>
<line x1="303" y1="552" x2="313.5" y2="552" stroke="#111" stroke-width="1.2" stroke-linecap="butt"/>
<line x1="1093" y1="432" x2="1102.6" y2="432" stroke="#111" stroke-width="1.2" stroke-linecap="butt"/>
<line x1="1093" y1="552" x2="1102.6" y2="552" stroke="#111" stroke-width="1.2" stroke-linecap="butt"/>
<line x1="331" y1="357" x2="565.5" y2="357" stroke="#111" stroke-width="1.8" stroke-linecap="butt"/>
<line x1="842" y1="357" x2="1076.5" y2="357" stroke="#111" stroke-width="1.8" stroke-linecap="butt"/>
<line x1="313.5" y1="374.7" x2="565.5" y2="374.7" stroke="#111" stroke-width="2.6" stroke-linecap="butt"/>
<line x1="842" y1="374.7" x2="1093" y2="374.7" stroke="#111" stroke-width="2.6" stroke-linecap="butt"/>
<rect x="332" y="351" width="13" height="6" fill="none" stroke="#111" stroke-width="1.0"/>
<line x1="313.5" y1="610.4" x2="565.5" y2="610.4" stroke="#111" stroke-width="2.6" stroke-linecap="butt"/>
<line x1="842" y1="610.4" x2="1093" y2="610.4" stroke="#111" stroke-width="2.6" stroke-linecap="butt"/>
<line x1="331" y1="628.2" x2="565.5" y2="628.2" stroke="#111" stroke-width="1.8" stroke-linecap="butt"/>
<line x1="842" y1="628.2" x2="1076.5" y2="628.2" stroke="#111" stroke-width="1.8" stroke-linecap="butt"/>
<line x1="331" y1="609" x2="331" y2="634" stroke="#111" stroke-width="1.8" stroke-linecap="butt"/>
<line x1="1076.5" y1="609" x2="1076.5" y2="634" stroke="#111" stroke-width="1.8" stroke-linecap="butt"/>
<line x1="377.2" y1="351" x2="377.2" y2="634" stroke="#9a9a9a" stroke-width="1.2" stroke-linecap="butt"/>
<line x1="389.7" y1="351" x2="389.7" y2="634" stroke="#9a9a9a" stroke-width="1.2" stroke-linecap="butt"/>
<line x1="1017.2" y1="351" x2="1017.2" y2="634" stroke="#9a9a9a" stroke-width="1.2" stroke-linecap="butt"/>
<line x1="1029.6" y1="351" x2="1029.6" y2="634" stroke="#9a9a9a" stroke-width="1.2" stroke-linecap="butt"/>
<polygon points="321,383 357.3,383 339.3,413.4" fill="none" stroke="#111" stroke-width="1.8" stroke-linejoin="round"/>
<polygon points="1049.5,383.7 1086,383.7 1067.8,413.4" fill="none" stroke="#111" stroke-width="1.8" stroke-linejoin="round"/>
<polygon points="321.4,601 357.2,601 339.3,570.4" fill="none" stroke="#111" stroke-width="1.8" stroke-linejoin="round"/>
<polygon points="1050.2,601.5 1085.6,601.5 1067.9,570.8" fill="none" stroke="#111" stroke-width="1.8" stroke-linejoin="round"/>
<circle cx="321" cy="441" r="5.5" fill="none" stroke="#111" stroke-width="1.4"/>
<circle cx="321" cy="441" r="2.75" fill="#222" stroke="#111" stroke-width="1.3"/>
<circle cx="321.4" cy="543.7" r="5.5" fill="none" stroke="#111" stroke-width="1.4"/>
<circle cx="321.4" cy="543.7" r="2.75" fill="#222" stroke="#111" stroke-width="1.3"/>
<circle cx="1086" cy="440.6" r="5.5" fill="none" stroke="#111" stroke-width="1.4"/>
<circle cx="1086" cy="440.6" r="2.75" fill="#222" stroke="#111" stroke-width="1.3"/>
<circle cx="1085.6" cy="543.9" r="5.5" fill="none" stroke="#111" stroke-width="1.4"/>
<circle cx="1085.6" cy="543.9" r="2.75" fill="#222" stroke="#111" stroke-width="1.3"/>
<path d="M395.1,357.6 L395.1,364.6 A8.5,8.5 0 0 0 412.1,364.6 L412.1,357.6" fill="none" stroke="#111" stroke-width="1.6" stroke-linejoin="round" />
<circle cx="403.6" cy="364.6" r="5" fill="none" stroke="#111" stroke-width="1.6"/>
<path d="M995.1,357.5 L995.1,364.5 A8.5,8.5 0 0 0 1012.1,364.5 L1012.1,357.5" fill="none" stroke="#111" stroke-width="1.6" stroke-linejoin="round" />
<circle cx="1003.6" cy="364.5" r="5" fill="none" stroke="#111" stroke-width="1.6"/>
<path d="M395.0,628 L395.0,621 A8.5,8.5 0 0 1 412.0,621 L412.0,628" fill="none" stroke="#111" stroke-width="1.6" stroke-linejoin="round" />
<circle cx="403.5" cy="621" r="5" fill="none" stroke="#111" stroke-width="1.6"/>
<path d="M994.9,627.8 L994.9,620.8 A8.5,8.5 0 0 1 1011.9,620.8 L1011.9,627.8" fill="none" stroke="#111" stroke-width="1.6" stroke-linejoin="round" />
<circle cx="1003.4" cy="620.8" r="5" fill="none" stroke="#111" stroke-width="1.6"/>
<rect x="1030" y="629" width="45" height="4.5" fill="#555" stroke="#111" stroke-width="1.0"/>
<rect x="332" y="629" width="48" height="4.5" fill="#555" stroke="#111" stroke-width="1.0"/>
<line x1="565.5" y1="351" x2="565.5" y2="634" stroke="#111" stroke-width="2.4" stroke-linecap="butt"/>
<line x1="842" y1="351" x2="842" y2="634" stroke="#111" stroke-width="2.4" stroke-linecap="butt"/>
<path d="M566.5,358 Q566.5,353.5 571,353.5 L837,353.5 Q840,353.5 840,358 L840,371.6 L779,441 Q776,445 770,445.2 L640,445.2 Q634,445 630,441 L566.5,371.6 Z" fill="none" stroke="#111" stroke-width="2.2" stroke-linejoin="round" />
<polyline points="609.6,354 648,390 653,394 755,394 760,390 795.2,354" fill="none" stroke="#111" stroke-width="2.2" stroke-linejoin="round"/>
<path d="M566.5,631 L566.5,612 L629,543 Q633,539.3 640,539.3 L768,539.3 Q775,539.3 779,543 L840,612 L840,631" fill="none" stroke="#111" stroke-width="2.2" stroke-linejoin="round" />
<polyline points="610,631.3 648,594 653,591 754.8,591 759,594 796.9,631.3" fill="none" stroke="#111" stroke-width="2.2" stroke-linejoin="round"/>
<circle cx="632" cy="365.2" r="7.2" fill="none" stroke="#111" stroke-width="1.8"/>
<circle cx="632" cy="365.2" r="3.24" fill="none" stroke="#111" stroke-width="1.4"/>
<circle cx="727.2" cy="365.2" r="7.2" fill="none" stroke="#111" stroke-width="1.8"/>
<circle cx="727.2" cy="365.2" r="3.24" fill="none" stroke="#111" stroke-width="1.4"/>
<circle cx="775.2" cy="365.2" r="7.2" fill="none" stroke="#111" stroke-width="1.8"/>
<circle cx="775.2" cy="365.2" r="3.24" fill="none" stroke="#111" stroke-width="1.4"/>
<circle cx="704" cy="364" r="4.2" fill="#222"/>
<circle cx="575.2" cy="363.6" r="4.2" fill="none" stroke="#111" stroke-width="1.4"/>
<circle cx="587.2" cy="358.8" r="6.5" fill="none" stroke="#111" stroke-width="1.8"/>
<circle cx="587.2" cy="358.8" r="2.93" fill="none" stroke="#111" stroke-width="1.4"/>
<circle cx="806.4" cy="358.8" r="4.5" fill="#222"/>
<circle cx="806.4" cy="358.8" r="6.5" fill="none" stroke="#111" stroke-width="1.4"/>
<circle cx="820" cy="358.8" r="6.5" fill="none" stroke="#111" stroke-width="1.8"/>
<circle cx="820" cy="358.8" r="2.93" fill="none" stroke="#111" stroke-width="1.4"/>
<circle cx="832" cy="363.6" r="4.2" fill="none" stroke="#111" stroke-width="1.4"/>
<circle cx="617.9" cy="406.8" r="4.6" fill="none" stroke="#111" stroke-width="1.6"/>
<circle cx="703.7" cy="406.8" r="4.6" fill="none" stroke="#111" stroke-width="1.6"/>
<circle cx="789.6" cy="406.8" r="4.6" fill="none" stroke="#111" stroke-width="1.6"/>
<circle cx="639.5" cy="427.9" r="4.6" fill="none" stroke="#111" stroke-width="1.6"/>
<circle cx="703.7" cy="427.9" r="4.6" fill="none" stroke="#111" stroke-width="1.6"/>
<circle cx="768" cy="427.9" r="4.6" fill="none" stroke="#111" stroke-width="1.6"/>
<circle cx="639.4" cy="556.8" r="4.6" fill="none" stroke="#111" stroke-width="1.6"/>
<circle cx="768" cy="556.8" r="4.6" fill="none" stroke="#111" stroke-width="1.6"/>
<circle cx="704" cy="556.8" r="3.6" fill="none" stroke="#111" stroke-width="1.6"/>
<circle cx="618" cy="577.8" r="4.6" fill="none" stroke="#111" stroke-width="1.6"/>
<circle cx="789.3" cy="577.8" r="4.6" fill="none" stroke="#111" stroke-width="1.6"/>
<circle cx="704" cy="577.8" r="3.6" fill="none" stroke="#111" stroke-width="1.6"/>
<circle cx="631.7" cy="619.2" r="7" fill="none" stroke="#111" stroke-width="1.8"/>
<circle cx="631.7" cy="619.2" r="3.15" fill="none" stroke="#111" stroke-width="1.4"/>
<circle cx="679.8" cy="619.2" r="7" fill="none" stroke="#111" stroke-width="1.8"/>
<circle cx="679.8" cy="619.2" r="3.15" fill="none" stroke="#111" stroke-width="1.4"/>
<circle cx="727.6" cy="619.2" r="7" fill="none" stroke="#111" stroke-width="1.8"/>
<circle cx="727.6" cy="619.2" r="3.15" fill="none" stroke="#111" stroke-width="1.4"/>
<circle cx="775.5" cy="619.2" r="7" fill="none" stroke="#111" stroke-width="1.8"/>
<circle cx="775.5" cy="619.2" r="3.15" fill="none" stroke="#111" stroke-width="1.4"/>
<circle cx="704" cy="620.8" r="3.6" fill="none" stroke="#111" stroke-width="1.6"/>
<circle cx="575" cy="620.8" r="4.2" fill="none" stroke="#111" stroke-width="1.4"/>
<circle cx="587.3" cy="626" r="6.5" fill="none" stroke="#111" stroke-width="1.8"/>
<circle cx="587.3" cy="626" r="2.93" fill="none" stroke="#111" stroke-width="1.4"/>
<circle cx="820.2" cy="626" r="6.5" fill="none" stroke="#111" stroke-width="1.8"/>
<circle cx="820.2" cy="626" r="2.93" fill="none" stroke="#111" stroke-width="1.4"/>
<circle cx="832.5" cy="620.8" r="4.2" fill="none" stroke="#111" stroke-width="1.4"/>
<path d="M584,322 Q584,319.6 587,319.6 L590,319.6 L590,323 L600.8,323 L600.8,329 L590,329 L590,332.4 L587,332.4 Q584,332.4 584,330 Z" fill="none" stroke="#111" stroke-width="1.6" stroke-linejoin="round" />
<rect x="600.8" y="310" width="41.6" height="32" fill="none" stroke="#111" stroke-width="1.8" rx="3"/>
<rect x="642.4" y="305.2" width="71.2" height="46.4" fill="none" stroke="#111" stroke-width="1.8" rx="3"/>
<line x1="642.4" y1="337" x2="713.6" y2="337" stroke="#111" stroke-width="1.6" stroke-linecap="butt"/>
<line x1="656" y1="305" x2="656" y2="337" stroke="#111" stroke-width="1.4" stroke-linecap="butt"/>
<rect x="657" y="301.2" width="109.4" height="5.3" fill="#111"/>
<rect x="680" y="306" width="72" height="5" fill="#333"/>
<line x1="664" y1="309" x2="720" y2="337" stroke="#111" stroke-width="1.8" stroke-linecap="butt"/>
<line x1="659" y1="312" x2="700" y2="312" stroke="#111" stroke-width="1.4" stroke-linecap="butt"/>
<rect x="657" y="325" width="11" height="8" fill="#777" stroke="#111" stroke-width="1.4"/>
<rect x="690" y="325" width="10" height="8" fill="#777" stroke="#111" stroke-width="1.4"/>
<rect x="735" y="305" width="31.4" height="33" fill="none" stroke="#111" stroke-width="1.6"/>
<rect x="735" y="306" width="31.4" height="7" fill="#222"/>
<rect x="735" y="318" width="31.4" height="4" fill="#222"/>
<rect x="735" y="328" width="31.4" height="7" fill="#222"/>
<rect x="766.4" y="306" width="39.6" height="31.2" fill="none" stroke="#111" stroke-width="1.8" rx="3"/>
<rect x="805" y="307" width="3" height="29" fill="none" stroke="#111" stroke-width="1.4"/>
<line x1="713.6" y1="344" x2="842" y2="344" stroke="#111" stroke-width="1.4" stroke-linecap="butt"/>
<line x1="713.6" y1="351" x2="842" y2="351" stroke="#111" stroke-width="1.4" stroke-linecap="butt"/>
<line x1="715" y1="340" x2="766" y2="340" stroke="#111" stroke-width="1.6" stroke-linecap="butt"/>
<line x1="808" y1="306" x2="880" y2="306" stroke="#111" stroke-width="1.4" stroke-linecap="butt"/>
<line x1="808" y1="312.5" x2="880" y2="312.5" stroke="#111" stroke-width="1.4" stroke-linecap="butt"/>
<line x1="808" y1="318" x2="880" y2="318" stroke="#111" stroke-width="1.4" stroke-linecap="butt"/>
<line x1="808" y1="322.5" x2="880" y2="322.5" stroke="#111" stroke-width="1.4" stroke-linecap="butt"/>
<line x1="808" y1="327.5" x2="880" y2="327.5" stroke="#111" stroke-width="1.4" stroke-linecap="butt"/>
<line x1="808" y1="309" x2="858" y2="309" stroke="#111" stroke-width="1.2" stroke-linecap="butt"/>
<path d="M860,351 L860,335 Q860,327 870,327 L900,327" fill="none" stroke="#111" stroke-width="1.6" stroke-linejoin="round" />
<path d="M866,351 L866,338 Q866,332 874,332 L900,332" fill="none" stroke="#111" stroke-width="1.4" stroke-linejoin="round" />
<rect x="855" y="348" width="13" height="14" fill="none" stroke="#111" stroke-width="1.6"/>
<rect x="856" y="348" width="11" height="4" fill="#222"/>
<rect x="848" y="361" width="14" height="20" fill="none" stroke="#111" stroke-width="1.4"/>
<rect x="860" y="363" width="6" height="13" fill="none" stroke="#111" stroke-width="1.2"/>
<rect x="842" y="304.6" width="242.3" height="41.7" fill="none" stroke="#111" stroke-width="1.8"/>
<rect x="900" y="305" width="22" height="3" fill="#444"/>
<rect x="900" y="341" width="22" height="4" fill="#444"/>
<line x1="842" y1="340.5" x2="900" y2="340.5" stroke="#111" stroke-width="1.2" stroke-linecap="butt"/>
<line x1="187" y1="303.6" x2="336" y2="303.6" stroke="#2a3ca8" stroke-width="1.5" stroke-linecap="butt"/>
<line x1="336" y1="303.6" x2="398" y2="357" stroke="#2a3ca8" stroke-width="1.5" stroke-linecap="butt"/>
<polygon points="398,357 389.63,352.91 392.78,349.28" fill="#2a3ca8"/>
<text x="189" y="300" font-size="16.5" fill="#2b3aa6" text-anchor="start" font-weight="normal" font-family="&quot;Liberation Sans&quot;, sans-serif" textLength="44" lengthAdjust="spacingAndGlyphs" stroke="#2b3aa6" stroke-width="0.45">Ø6,6/</text>
<polyline points="238.5,289 238.5,301 262,301 262,289" fill="none" stroke="#2a3ca8" stroke-width="1.5" stroke-linejoin="round"/>
<text x="271" y="300" font-size="16.5" fill="#2b3aa6" text-anchor="start" font-weight="normal" font-family="&quot;Liberation Sans&quot;, sans-serif" textLength="64" lengthAdjust="spacingAndGlyphs" stroke="#2b3aa6" stroke-width="0.45">Ø11,2x8</text>
<line x1="377.2" y1="264" x2="377.2" y2="351" stroke="#2a3ca8" stroke-width="1.5" stroke-linecap="butt"/>
<line x1="389.7" y1="286" x2="389.7" y2="351" stroke="#2a3ca8" stroke-width="1.5" stroke-linecap="butt"/>
<line x1="564.4" y1="262" x2="564.4" y2="351" stroke="#2a3ca8" stroke-width="1.5" stroke-linecap="butt"/>
<line x1="377.2" y1="268.3" x2="564.4" y2="268.3" stroke="#2a3ca8" stroke-width="1.6" stroke-linecap="butt"/>
<polygon points="377.2,268.3 387.2,265.7 387.2,270.9" fill="#2a3ca8"/>
<polygon points="564.4,268.3 554.4,270.9 554.4,265.7" fill="#2a3ca8"/>
<line x1="389.7" y1="290.2" x2="564.4" y2="290.2" stroke="#2a3ca8" stroke-width="1.6" stroke-linecap="butt"/>
<polygon points="389.7,290.2 399.7,287.6 399.7,292.8" fill="#2a3ca8"/>
<polygon points="564.4,290.2 554.4,292.8 554.4,287.6" fill="#2a3ca8"/>
<text x="443.2" y="264.4" font-size="16.5" fill="#2b3aa6" text-anchor="middle" font-weight="normal" font-family="&quot;Liberation Sans&quot;, sans-serif" stroke="#2b3aa6" stroke-width="0.45">1/2 HDS</text>
<text x="468.5" y="285.8" font-size="16.5" fill="#2b3aa6" text-anchor="middle" font-weight="normal" font-family="&quot;Liberation Sans&quot;, sans-serif" stroke="#2b3aa6" stroke-width="0.45">1/2 LSW (LE1)</text>
<line x1="842.6" y1="262" x2="842.6" y2="351" stroke="#2a3ca8" stroke-width="1.5" stroke-linecap="butt"/>
<line x1="1017.2" y1="286" x2="1017.2" y2="351" stroke="#2a3ca8" stroke-width="1.5" stroke-linecap="butt"/>
<line x1="1029.6" y1="262" x2="1029.6" y2="351" stroke="#2a3ca8" stroke-width="1.5" stroke-linecap="butt"/>
<line x1="842.6" y1="268" x2="1029.6" y2="268" stroke="#2a3ca8" stroke-width="1.6" stroke-linecap="butt"/>
<polygon points="842.6,268 852.6,265.4 852.6,270.6" fill="#2a3ca8"/>
<polygon points="1029.6,268 1019.6,270.6 1019.6,265.4" fill="#2a3ca8"/>
<line x1="842.6" y1="290.2" x2="1017.2" y2="290.2" stroke="#2a3ca8" stroke-width="1.6" stroke-linecap="butt"/>
<polygon points="842.6,290.2 852.6,287.6 852.6,292.8" fill="#2a3ca8"/>
<polygon points="1017.2,290.2 1007.2,292.8 1007.2,287.6" fill="#2a3ca8"/>
<text x="902.4" y="264.4" font-size="16.5" fill="#2b3aa6" text-anchor="middle" font-weight="normal" font-family="&quot;Liberation Sans&quot;, sans-serif" stroke="#2b3aa6" stroke-width="0.45">1/2 HDS</text>
<text x="927" y="285.8" font-size="16.5" fill="#2b3aa6" text-anchor="middle" font-weight="normal" font-family="&quot;Liberation Sans&quot;, sans-serif" stroke="#2b3aa6" stroke-width="0.45">1/2 LSW (LE2)</text>
<line x1="296" y1="636" x2="296" y2="703" stroke="#2a3ca8" stroke-width="1.5" stroke-linecap="butt"/>
<line x1="331" y1="636" x2="331" y2="660" stroke="#2a3ca8" stroke-width="1.5" stroke-linecap="butt"/>
<line x1="251" y1="657.3" x2="331" y2="657.3" stroke="#2a3ca8" stroke-width="1.5" stroke-linecap="butt"/>
<polygon points="296,657.3 305,654.9 305,659.7" fill="#2a3ca8"/>
<polygon points="331,657.3 322,659.7 322,654.9" fill="#2a3ca8"/>
<text x="267" y="653.6" font-size="16.5" fill="#2b3aa6" text-anchor="middle" font-weight="normal" font-family="&quot;Liberation Sans&quot;, sans-serif" stroke="#2b3aa6" stroke-width="0.45">( 20 )</text>
<line x1="703.4" y1="579.6" x2="703.4" y2="702.3" stroke="#2a3ca8" stroke-width="1.5" stroke-linecap="butt"/>
<line x1="296" y1="699.8" x2="703.4" y2="699.8" stroke="#2a3ca8" stroke-width="1.6" stroke-linecap="butt"/>
<polygon points="296,699.8 306,697.2 306,702.4" fill="#2a3ca8"/>
<polygon points="703.4,699.8 693.4,702.4 693.4,697.2" fill="#2a3ca8"/>
<text x="479.5" y="658.5" font-size="16.5" fill="#2b3aa6" text-anchor="middle" font-weight="normal" font-family="&quot;Liberation Sans&quot;, sans-serif" stroke="#2b3aa6" stroke-width="0.45">B</text>
<text x="479.5" y="676.5" font-size="16.5" fill="#2b3aa6" text-anchor="middle" font-weight="normal" font-family="&quot;Liberation Sans&quot;, sans-serif" stroke="#2b3aa6" stroke-width="0.45">center of travel position</text>
<text x="479.5" y="695" font-size="16.5" fill="#2b3aa6" text-anchor="middle" font-weight="normal" font-family="&quot;Liberation Sans&quot;, sans-serif" stroke="#2b3aa6" stroke-width="0.45">(reference position)</text>
<text x="752.5" y="718.5" font-size="23" fill="#111" text-anchor="middle" font-weight="normal" font-family="&quot;Liberation Sans&quot;, sans-serif" stroke="#111" stroke-width="0.45">X</text>
<line x1="596.9" y1="210" x2="596.9" y2="245.7" stroke="#111" stroke-width="1.8" stroke-linecap="butt"/>
<polygon points="596.9,202 593,218 600.8,218" fill="#111"/>
<text x="626" y="229.5" font-size="23" fill="#111" text-anchor="middle" font-weight="normal" font-family="&quot;Liberation Sans&quot;, sans-serif" stroke="#111" stroke-width="0.45">X</text>
<path d="M1235.3,345 Q1235.3,338.5 1241.5,338.5 L1506,338.5 Q1512.2,338.5 1512.2,345 L1512.2,612.5 Q1512.2,618.9 1506,618.9 L1241.5,618.9 Q1235.3,618.9 1235.3,612.5 Z" fill="none" stroke="#111" stroke-width="2.4" stroke-linejoin="round" />
<path d="M1236.5,357 L1295,424 Q1299,431.6 1307,431.6 L1440,431.6 Q1447,431.6 1451,425 L1511,357" fill="none" stroke="#111" stroke-width="2.2" stroke-linejoin="round" />
<path d="M1280,339 L1317,376 Q1321,380.2 1327,380.2 L1419,380.2 Q1425,380.2 1429,376 L1467,339" fill="none" stroke="#111" stroke-width="2.2" stroke-linejoin="round" />
<path d="M1236.5,599.5 L1298,530 Q1302,525.3 1310,525.3 L1438,525.3 Q1446,525.3 1450,530 L1511,597" fill="none" stroke="#111" stroke-width="2.2" stroke-linejoin="round" />
<path d="M1279.5,618.4 L1317,581 Q1321,577.2 1327,577.2 L1419,577.2 Q1425,577.2 1429,581 L1468,618.4" fill="none" stroke="#111" stroke-width="2.2" stroke-linejoin="round" />
<circle cx="1245.2" cy="349.6" r="4.5" fill="none" stroke="#111" stroke-width="1.5"/>
<line x1="1238.2" y1="349.6" x2="1252.2" y2="349.6" stroke="#111" stroke-width="1.1" stroke-linecap="butt"/>
<line x1="1245.2" y1="342.6" x2="1245.2" y2="356.6" stroke="#111" stroke-width="1.1" stroke-linecap="butt"/>
<circle cx="1502.9" cy="349.6" r="4.5" fill="none" stroke="#111" stroke-width="1.5"/>
<line x1="1495.9" y1="349.6" x2="1509.9" y2="349.6" stroke="#111" stroke-width="1.1" stroke-linecap="butt"/>
<line x1="1502.9" y1="342.6" x2="1502.9" y2="356.6" stroke="#111" stroke-width="1.1" stroke-linecap="butt"/>
<circle cx="1301.5" cy="349.6" r="7" fill="none" stroke="#111" stroke-width="1.8"/>
<circle cx="1301.5" cy="349.6" r="4.34" fill="none" stroke="#111" stroke-width="1.1"/>
<line x1="1292" y1="349.6" x2="1311" y2="349.6" stroke="#111" stroke-width="1.1" stroke-linecap="butt"/>
<line x1="1301.5" y1="340.1" x2="1301.5" y2="359.1" stroke="#111" stroke-width="1.1" stroke-linecap="butt"/>
<circle cx="1446" cy="349.6" r="7" fill="none" stroke="#111" stroke-width="1.8"/>
<circle cx="1446" cy="349.6" r="4.34" fill="none" stroke="#111" stroke-width="1.1"/>
<line x1="1436.5" y1="349.6" x2="1455.5" y2="349.6" stroke="#111" stroke-width="1.1" stroke-linecap="butt"/>
<line x1="1446" y1="340.1" x2="1446" y2="359.1" stroke="#111" stroke-width="1.1" stroke-linecap="butt"/>
<circle cx="1245.2" cy="607.1" r="4.5" fill="none" stroke="#111" stroke-width="1.5"/>
<line x1="1238.2" y1="607.1" x2="1252.2" y2="607.1" stroke="#111" stroke-width="1.1" stroke-linecap="butt"/>
<line x1="1245.2" y1="600.1" x2="1245.2" y2="614.1" stroke="#111" stroke-width="1.1" stroke-linecap="butt"/>
<circle cx="1502.9" cy="607.1" r="4.5" fill="none" stroke="#111" stroke-width="1.5"/>
<line x1="1495.9" y1="607.1" x2="1509.9" y2="607.1" stroke="#111" stroke-width="1.1" stroke-linecap="butt"/>
<line x1="1502.9" y1="600.1" x2="1502.9" y2="614.1" stroke="#111" stroke-width="1.1" stroke-linecap="butt"/>
<circle cx="1301.5" cy="607.1" r="7" fill="none" stroke="#111" stroke-width="1.8"/>
<circle cx="1301.5" cy="607.1" r="4.34" fill="none" stroke="#111" stroke-width="1.1"/>
<line x1="1292" y1="607.1" x2="1311" y2="607.1" stroke="#111" stroke-width="1.1" stroke-linecap="butt"/>
<line x1="1301.5" y1="597.6" x2="1301.5" y2="616.6" stroke="#111" stroke-width="1.1" stroke-linecap="butt"/>
<circle cx="1446" cy="607.1" r="7" fill="none" stroke="#111" stroke-width="1.8"/>
<circle cx="1446" cy="607.1" r="4.34" fill="none" stroke="#111" stroke-width="1.1"/>
<line x1="1436.5" y1="607.1" x2="1455.5" y2="607.1" stroke="#111" stroke-width="1.1" stroke-linecap="butt"/>
<line x1="1446" y1="597.6" x2="1446" y2="616.6" stroke="#111" stroke-width="1.1" stroke-linecap="butt"/>
<circle cx="1257.4" cy="349.6" r="6" fill="none" stroke="#111" stroke-width="1.6"/>
<circle cx="1257.4" cy="349.6" r="3.72" fill="none" stroke="#111" stroke-width="1.1"/>
<line x1="1248.9" y1="349.6" x2="1265.9" y2="349.6" stroke="#111" stroke-width="1.1" stroke-linecap="butt"/>
<line x1="1257.4" y1="341.1" x2="1257.4" y2="358.1" stroke="#111" stroke-width="1.1" stroke-linecap="butt"/>
<circle cx="1475.5" cy="349.6" r="5" fill="none" stroke="#111" stroke-width="1.5"/>
<circle cx="1475.5" cy="349.6" r="3.1" fill="none" stroke="#111" stroke-width="1.1"/>
<line x1="1468" y1="349.6" x2="1483" y2="349.6" stroke="#111" stroke-width="1.1" stroke-linecap="butt"/>
<line x1="1475.5" y1="342.1" x2="1475.5" y2="357.1" stroke="#111" stroke-width="1.1" stroke-linecap="butt"/>
<circle cx="1490.6" cy="349.6" r="5" fill="none" stroke="#111" stroke-width="1.5"/>
<circle cx="1490.6" cy="349.6" r="3.1" fill="none" stroke="#111" stroke-width="1.1"/>
<line x1="1483.1" y1="349.6" x2="1498.1" y2="349.6" stroke="#111" stroke-width="1.1" stroke-linecap="butt"/>
<line x1="1490.6" y1="342.1" x2="1490.6" y2="357.1" stroke="#111" stroke-width="1.1" stroke-linecap="butt"/>
<circle cx="1397.8" cy="349.6" r="8" fill="none" stroke="#111" stroke-width="1.8"/>
<circle cx="1397.8" cy="349.6" r="4.96" fill="none" stroke="#111" stroke-width="1.1"/>
<line x1="1387.3" y1="349.6" x2="1408.3" y2="349.6" stroke="#111" stroke-width="1.1" stroke-linecap="butt"/>
<line x1="1397.8" y1="339.1" x2="1397.8" y2="360.1" stroke="#111" stroke-width="1.1" stroke-linecap="butt"/>
<circle cx="1257.4" cy="607.1" r="6" fill="none" stroke="#111" stroke-width="1.6"/>
<circle cx="1257.4" cy="607.1" r="3.72" fill="none" stroke="#111" stroke-width="1.1"/>
<line x1="1248.9" y1="607.1" x2="1265.9" y2="607.1" stroke="#111" stroke-width="1.1" stroke-linecap="butt"/>
<line x1="1257.4" y1="598.6" x2="1257.4" y2="615.6" stroke="#111" stroke-width="1.1" stroke-linecap="butt"/>
<circle cx="1490.6" cy="607.1" r="6" fill="none" stroke="#111" stroke-width="1.6"/>
<circle cx="1490.6" cy="607.1" r="3.72" fill="none" stroke="#111" stroke-width="1.1"/>
<line x1="1482.1" y1="607.1" x2="1499.1" y2="607.1" stroke="#111" stroke-width="1.1" stroke-linecap="butt"/>
<line x1="1490.6" y1="598.6" x2="1490.6" y2="615.6" stroke="#111" stroke-width="1.1" stroke-linecap="butt"/>
<circle cx="1349.3" cy="607.1" r="8" fill="none" stroke="#111" stroke-width="1.8"/>
<circle cx="1349.3" cy="607.1" r="4.96" fill="none" stroke="#111" stroke-width="1.1"/>
<line x1="1338.8" y1="607.1" x2="1359.8" y2="607.1" stroke="#111" stroke-width="1.1" stroke-linecap="butt"/>
<line x1="1349.3" y1="596.6" x2="1349.3" y2="617.6" stroke="#111" stroke-width="1.1" stroke-linecap="butt"/>
<circle cx="1397.8" cy="607.1" r="7" fill="none" stroke="#111" stroke-width="1.8"/>
<circle cx="1397.8" cy="607.1" r="4.34" fill="none" stroke="#111" stroke-width="1.1"/>
<line x1="1388.3" y1="607.1" x2="1407.3" y2="607.1" stroke="#111" stroke-width="1.1" stroke-linecap="butt"/>
<line x1="1397.8" y1="597.6" x2="1397.8" y2="616.6" stroke="#111" stroke-width="1.1" stroke-linecap="butt"/>
<circle cx="1288" cy="393.2" r="5" fill="none" stroke="#111" stroke-width="1.6"/>
<line x1="1280.5" y1="393.2" x2="1295.5" y2="393.2" stroke="#111" stroke-width="1.1" stroke-linecap="butt"/>
<line x1="1288" y1="385.7" x2="1288" y2="400.7" stroke="#111" stroke-width="1.1" stroke-linecap="butt"/>
<circle cx="1459.5" cy="393.2" r="5" fill="none" stroke="#111" stroke-width="1.6"/>
<line x1="1452" y1="393.2" x2="1467" y2="393.2" stroke="#111" stroke-width="1.1" stroke-linecap="butt"/>
<line x1="1459.5" y1="385.7" x2="1459.5" y2="400.7" stroke="#111" stroke-width="1.1" stroke-linecap="butt"/>
<circle cx="1310" cy="414.5" r="5" fill="none" stroke="#111" stroke-width="1.6"/>
<line x1="1302.5" y1="414.5" x2="1317.5" y2="414.5" stroke="#111" stroke-width="1.1" stroke-linecap="butt"/>
<line x1="1310" y1="407" x2="1310" y2="422" stroke="#111" stroke-width="1.1" stroke-linecap="butt"/>
<circle cx="1438.2" cy="414.5" r="5" fill="none" stroke="#111" stroke-width="1.6"/>
<line x1="1430.7" y1="414.5" x2="1445.7" y2="414.5" stroke="#111" stroke-width="1.1" stroke-linecap="butt"/>
<line x1="1438.2" y1="407" x2="1438.2" y2="422" stroke="#111" stroke-width="1.1" stroke-linecap="butt"/>
<circle cx="1310" cy="542.9" r="5" fill="none" stroke="#111" stroke-width="1.6"/>
<line x1="1302.5" y1="542.9" x2="1317.5" y2="542.9" stroke="#111" stroke-width="1.1" stroke-linecap="butt"/>
<line x1="1310" y1="535.4" x2="1310" y2="550.4" stroke="#111" stroke-width="1.1" stroke-linecap="butt"/>
<circle cx="1438.2" cy="542.9" r="5" fill="none" stroke="#111" stroke-width="1.6"/>
<line x1="1430.7" y1="542.9" x2="1445.7" y2="542.9" stroke="#111" stroke-width="1.1" stroke-linecap="butt"/>
<line x1="1438.2" y1="535.4" x2="1438.2" y2="550.4" stroke="#111" stroke-width="1.1" stroke-linecap="butt"/>
<circle cx="1288" cy="565" r="5" fill="none" stroke="#111" stroke-width="1.6"/>
<line x1="1280.5" y1="565" x2="1295.5" y2="565" stroke="#111" stroke-width="1.1" stroke-linecap="butt"/>
<line x1="1288" y1="557.5" x2="1288" y2="572.5" stroke="#111" stroke-width="1.1" stroke-linecap="butt"/>
<circle cx="1459.5" cy="565" r="5" fill="none" stroke="#111" stroke-width="1.6"/>
<line x1="1452" y1="565" x2="1467" y2="565" stroke="#111" stroke-width="1.1" stroke-linecap="butt"/>
<line x1="1459.5" y1="557.5" x2="1459.5" y2="572.5" stroke="#111" stroke-width="1.1" stroke-linecap="butt"/>
<polygon points="1368.8,349.6 1373.3,345.1 1377.8,349.6 1373.3,354.1" fill="none" stroke="#111" stroke-width="1.2"/>
<line x1="1368.8" y1="349.6" x2="1377.8" y2="349.6" stroke="#111" stroke-width="1.3" stroke-linecap="butt"/>
<line x1="1373.3" y1="345.1" x2="1373.3" y2="354.1" stroke="#111" stroke-width="1.3" stroke-linecap="butt"/>
<polygon points="1368.8,393.2 1373.3,388.7 1377.8,393.2 1373.3,397.7" fill="none" stroke="#111" stroke-width="1.2"/>
<line x1="1368.8" y1="393.2" x2="1377.8" y2="393.2" stroke="#111" stroke-width="1.3" stroke-linecap="butt"/>
<line x1="1373.3" y1="388.7" x2="1373.3" y2="397.7" stroke="#111" stroke-width="1.3" stroke-linecap="butt"/>
<polygon points="1368.8,414.5 1373.3,410 1377.8,414.5 1373.3,419" fill="none" stroke="#111" stroke-width="1.2"/>
<line x1="1368.8" y1="414.5" x2="1377.8" y2="414.5" stroke="#111" stroke-width="1.3" stroke-linecap="butt"/>
<line x1="1373.3" y1="410" x2="1373.3" y2="419" stroke="#111" stroke-width="1.3" stroke-linecap="butt"/>
<polygon points="1368.8,542.4 1373.3,537.9 1377.8,542.4 1373.3,546.9" fill="none" stroke="#111" stroke-width="1.2"/>
<line x1="1368.8" y1="542.4" x2="1377.8" y2="542.4" stroke="#111" stroke-width="1.3" stroke-linecap="butt"/>
<line x1="1373.3" y1="537.9" x2="1373.3" y2="546.9" stroke="#111" stroke-width="1.3" stroke-linecap="butt"/>
<polygon points="1368.8,564.5 1373.3,560 1377.8,564.5 1373.3,569" fill="none" stroke="#111" stroke-width="1.2"/>
<line x1="1368.8" y1="564.5" x2="1377.8" y2="564.5" stroke="#111" stroke-width="1.3" stroke-linecap="butt"/>
<line x1="1373.3" y1="560" x2="1373.3" y2="569" stroke="#111" stroke-width="1.3" stroke-linecap="butt"/>
<polygon points="1368.8,607.8 1373.3,603.3 1377.8,607.8 1373.3,612.3" fill="none" stroke="#111" stroke-width="1.2"/>
<line x1="1368.8" y1="607.8" x2="1377.8" y2="607.8" stroke="#111" stroke-width="1.3" stroke-linecap="butt"/>
<line x1="1373.3" y1="603.3" x2="1373.3" y2="612.3" stroke="#111" stroke-width="1.3" stroke-linecap="butt"/>
<line x1="1235.3" y1="226" x2="1235.3" y2="338" stroke="#2a3ca8" stroke-width="1.5" stroke-linecap="butt"/>
<line x1="1512.2" y1="226" x2="1512.2" y2="338" stroke="#2a3ca8" stroke-width="1.5" stroke-linecap="butt"/>
<line x1="1245.2" y1="250" x2="1245.2" y2="345" stroke="#2a3ca8" stroke-width="1.5" stroke-linecap="butt"/>
<line x1="1502.4" y1="250" x2="1502.4" y2="345" stroke="#2a3ca8" stroke-width="1.5" stroke-linecap="butt"/>
<line x1="1288" y1="279" x2="1288" y2="388" stroke="#2a3ca8" stroke-width="1.5" stroke-linecap="butt"/>
<line x1="1459.5" y1="279" x2="1459.5" y2="388" stroke="#2a3ca8" stroke-width="1.5" stroke-linecap="butt"/>
<line x1="1310" y1="306" x2="1310" y2="409" stroke="#2a3ca8" stroke-width="1.5" stroke-linecap="butt"/>
<line x1="1438.2" y1="306" x2="1438.2" y2="409" stroke="#2a3ca8" stroke-width="1.5" stroke-linecap="butt"/>
<line x1="1235.3" y1="230.7" x2="1512.2" y2="230.7" stroke="#2a3ca8" stroke-width="1.6" stroke-linecap="butt"/>
<polygon points="1235.3,230.7 1245.3,228.1 1245.3,233.3" fill="#2a3ca8"/>
<polygon points="1512.2,230.7 1502.2,233.3 1502.2,228.1" fill="#2a3ca8"/>
<text x="1381.6" y="227" font-size="17" fill="#2b3aa6" text-anchor="middle" font-weight="normal" font-family="&quot;Liberation Sans&quot;, sans-serif" stroke="#2b3aa6" stroke-width="0.45">162</text>
<line x1="1245.2" y1="254.7" x2="1502.4" y2="254.7" stroke="#2a3ca8" stroke-width="1.6" stroke-linecap="butt"/>
<polygon points="1245.2,254.7 1255.2,252.1 1255.2,257.3" fill="#2a3ca8"/>
<polygon points="1502.4,254.7 1492.4,257.3 1492.4,252.1" fill="#2a3ca8"/>
<line x1="1288" y1="283.4" x2="1459.5" y2="283.4" stroke="#2a3ca8" stroke-width="1.6" stroke-linecap="butt"/>
<polygon points="1288,283.4 1298,280.8 1298,286" fill="#2a3ca8"/>
<polygon points="1459.5,283.4 1449.5,286 1449.5,280.8" fill="#2a3ca8"/>
<line x1="1310" y1="310.8" x2="1438.2" y2="310.8" stroke="#2a3ca8" stroke-width="1.6" stroke-linecap="butt"/>
<polygon points="1310,310.8 1320,308.2 1320,313.4" fill="#2a3ca8"/>
<polygon points="1438.2,310.8 1428.2,313.4 1428.2,308.2" fill="#2a3ca8"/>
<rect x="1355.25" y="239.5" width="10" height="10" fill="none" stroke="#2b3aa6" stroke-width="1.5"/>
<text x="1368.25" y="250.5" font-size="17" fill="#2b3aa6" text-anchor="start" font-weight="normal" font-family="&quot;Liberation Sans&quot;, sans-serif" stroke="#2b3aa6" stroke-width="0.45">150</text>
<rect x="1355.25" y="268.7" width="10" height="10" fill="none" stroke="#2b3aa6" stroke-width="1.5"/>
<text x="1368.25" y="279.7" font-size="17" fill="#2b3aa6" text-anchor="start" font-weight="normal" font-family="&quot;Liberation Sans&quot;, sans-serif" stroke="#2b3aa6" stroke-width="0.45">100</text>
<rect x="1361.75" y="296.5" width="8.5" height="8.5" fill="none" stroke="#2b3aa6" stroke-width="1.5"/>
<text x="1373.25" y="306" font-size="17" fill="#2b3aa6" text-anchor="start" font-weight="normal" font-family="&quot;Liberation Sans&quot;, sans-serif" stroke="#2b3aa6" stroke-width="0.45">75</text>
<line x1="1512.2" y1="338.5" x2="1604" y2="338.5" stroke="#2a3ca8" stroke-width="1.5" stroke-linecap="butt"/>
<line x1="1512.2" y1="618.9" x2="1604" y2="618.9" stroke="#2a3ca8" stroke-width="1.5" stroke-linecap="butt"/>
<line x1="1373.3" y1="349.6" x2="1579.6" y2="349.6" stroke="#2a3ca8" stroke-width="1.5" stroke-linecap="butt"/>
<line x1="1373.3" y1="607.8" x2="1579.6" y2="607.8" stroke="#2a3ca8" stroke-width="1.5" stroke-linecap="butt"/>
<line x1="1373.3" y1="393.2" x2="1559.2" y2="393.2" stroke="#2a3ca8" stroke-width="1.5" stroke-linecap="butt"/>
<line x1="1373.3" y1="564.5" x2="1559.2" y2="564.5" stroke="#2a3ca8" stroke-width="1.5" stroke-linecap="butt"/>
<line x1="1373.3" y1="414.5" x2="1538" y2="414.5" stroke="#2a3ca8" stroke-width="1.5" stroke-linecap="butt"/>
<line x1="1373.3" y1="542.4" x2="1538" y2="542.4" stroke="#2a3ca8" stroke-width="1.5" stroke-linecap="butt"/>
<line x1="1600.4" y1="338.5" x2="1600.4" y2="618.9" stroke="#2a3ca8" stroke-width="1.6" stroke-linecap="butt"/>
<polygon points="1600.4,338.5 1603,348.5 1597.8,348.5" fill="#2a3ca8"/>
<polygon points="1600.4,618.9 1597.8,608.9 1603,608.9" fill="#2a3ca8"/>
<line x1="1576.4" y1="349.6" x2="1576.4" y2="607.8" stroke="#2a3ca8" stroke-width="1.6" stroke-linecap="butt"/>
<polygon points="1576.4,349.6 1579,359.6 1573.8,359.6" fill="#2a3ca8"/>
<polygon points="1576.4,607.8 1573.8,597.8 1579,597.8" fill="#2a3ca8"/>
<line x1="1555" y1="393.2" x2="1555" y2="564.5" stroke="#2a3ca8" stroke-width="1.6" stroke-linecap="butt"/>
<polygon points="1555,393.2 1557.6,403.2 1552.4,403.2" fill="#2a3ca8"/>
<polygon points="1555,564.5 1552.4,554.5 1557.6,554.5" fill="#2a3ca8"/>
<line x1="1533.8" y1="414.5" x2="1533.8" y2="542.4" stroke="#2a3ca8" stroke-width="1.6" stroke-linecap="butt"/>
<polygon points="1533.8,414.5 1536.4,424.5 1531.2,424.5" fill="#2a3ca8"/>
<polygon points="1533.8,542.4 1531.2,532.4 1536.4,532.4" fill="#2a3ca8"/>
<text x="1530.5" y="476.8" font-size="17" fill="#2b3aa6" text-anchor="middle" font-weight="normal" font-family="&quot;Liberation Sans&quot;, sans-serif" transform="rotate(-90 1530.5 476.8)" stroke="#2b3aa6" stroke-width="0.45">75</text>
<text x="1551.5" y="476.8" font-size="17" fill="#2b3aa6" text-anchor="middle" font-weight="normal" font-family="&quot;Liberation Sans&quot;, sans-serif" transform="rotate(-90 1551.5 476.8)" stroke="#2b3aa6" stroke-width="0.45">100</text>
<text x="1573.5" y="476.8" font-size="17" fill="#2b3aa6" text-anchor="middle" font-weight="normal" font-family="&quot;Liberation Sans&quot;, sans-serif" transform="rotate(-90 1573.5 476.8)" stroke="#2b3aa6" stroke-width="0.45">150</text>
<text x="1597" y="476.8" font-size="17" fill="#2b3aa6" text-anchor="middle" font-weight="normal" font-family="&quot;Liberation Sans&quot;, sans-serif" transform="rotate(-90 1597 476.8)" stroke="#2b3aa6" stroke-width="0.45">164</text>
<text x="1137.4" y="401" font-size="17" fill="#2b3aa6" text-anchor="start" font-weight="normal" font-family="&quot;Liberation Sans&quot;, sans-serif" textLength="52" lengthAdjust="spacingAndGlyphs" stroke="#2b3aa6" stroke-width="0.45">4 x M6</text>
<path d="M1191,390 L1202,390 M1196.5,390 L1196.5,401 M1192.5,396 L1196.5,401 L1200.5,396" stroke="#2b3aa6" stroke-width="1.6" fill="none"/>
<text x="1204" y="401" font-size="17" fill="#2b3aa6" text-anchor="start" font-weight="normal" font-family="&quot;Liberation Sans&quot;, sans-serif" stroke="#2b3aa6" stroke-width="0.45">8</text>
<line x1="1136.5" y1="405.4" x2="1214.5" y2="405.4" stroke="#2a3ca8" stroke-width="1.5" stroke-linecap="butt"/>
<line x1="1214.5" y1="405.4" x2="1242.7" y2="355.7" stroke="#2a3ca8" stroke-width="1.5" stroke-linecap="butt"/>
<polygon points="1242.7,355.7 1240.35,364.71 1236.17,362.34" fill="#2a3ca8"/>
<text x="1137.4" y="432.4" font-size="17" fill="#2b3aa6" text-anchor="start" font-weight="normal" font-family="&quot;Liberation Sans&quot;, sans-serif" textLength="52" lengthAdjust="spacingAndGlyphs" stroke="#2b3aa6" stroke-width="0.45">4 x M6</text>
<path d="M1191,421.4 L1202,421.4 M1196.5,421.4 L1196.5,432.4 M1192.5,427.4 L1196.5,432.4 L1200.5,427.4" stroke="#2b3aa6" stroke-width="1.6" fill="none"/>
<text x="1204" y="432.4" font-size="17" fill="#2b3aa6" text-anchor="start" font-weight="normal" font-family="&quot;Liberation Sans&quot;, sans-serif" stroke="#2b3aa6" stroke-width="0.45">8</text>
<line x1="1136.5" y1="436" x2="1214.5" y2="436" stroke="#2a3ca8" stroke-width="1.5" stroke-linecap="butt"/>
<line x1="1214.5" y1="436" x2="1283" y2="396.6" stroke="#2a3ca8" stroke-width="1.5" stroke-linecap="butt"/>
<polygon points="1283,396.6 1276.4,403.17 1274,399.01" fill="#2a3ca8"/>
<text x="1137.4" y="465.7" font-size="17" fill="#2b3aa6" text-anchor="start" font-weight="normal" font-family="&quot;Liberation Sans&quot;, sans-serif" textLength="52" lengthAdjust="spacingAndGlyphs" stroke="#2b3aa6" stroke-width="0.45">4 x M6</text>
<path d="M1191,454.7 L1202,454.7 M1196.5,454.7 L1196.5,465.7 M1192.5,460.7 L1196.5,465.7 L1200.5,460.7" stroke="#2b3aa6" stroke-width="1.6" fill="none"/>
<text x="1204" y="465.7" font-size="17" fill="#2b3aa6" text-anchor="start" font-weight="normal" font-family="&quot;Liberation Sans&quot;, sans-serif" stroke="#2b3aa6" stroke-width="0.45">8</text>
<line x1="1136.5" y1="469.9" x2="1214.5" y2="469.9" stroke="#2a3ca8" stroke-width="1.5" stroke-linecap="butt"/>
<line x1="1214.5" y1="469.9" x2="1306.4" y2="418" stroke="#2a3ca8" stroke-width="1.5" stroke-linecap="butt"/>
<polygon points="1306.4,418 1299.74,424.52 1297.38,420.34" fill="#2a3ca8"/>
<text x="1451" y="642.9" font-size="17" fill="#2b3aa6" text-anchor="start" font-weight="normal" font-family="&quot;Liberation Sans&quot;, sans-serif" textLength="90.6" lengthAdjust="spacingAndGlyphs" stroke="#2b3aa6" stroke-width="0.45">2 x Ø4 H7x7</text>
<line x1="1449.7" y1="647" x2="1542.8" y2="647" stroke="#2a3ca8" stroke-width="1.5" stroke-linecap="butt"/>
<line x1="1449.7" y1="647" x2="1376.2" y2="545.3" stroke="#2a3ca8" stroke-width="1.5" stroke-linecap="butt"/>
<polygon points="1376.2,545.3 1383.42,551.19 1379.53,554" fill="#2a3ca8"/>
<text x="1451" y="672.3" font-size="17" fill="#2b3aa6" text-anchor="start" font-weight="normal" font-family="&quot;Liberation Sans&quot;, sans-serif" textLength="90.6" lengthAdjust="spacingAndGlyphs" stroke="#2b3aa6" stroke-width="0.45">2 x Ø4 H7x7</text>
<line x1="1449.7" y1="676.4" x2="1542.8" y2="676.4" stroke="#2a3ca8" stroke-width="1.5" stroke-linecap="butt"/>
<line x1="1449.7" y1="676.4" x2="1376.2" y2="567.4" stroke="#2a3ca8" stroke-width="1.5" stroke-linecap="butt"/>
<polygon points="1376.2,567.4 1383.22,573.52 1379.24,576.2" fill="#2a3ca8"/>
<text x="1451" y="701.5" font-size="17" fill="#2b3aa6" text-anchor="start" font-weight="normal" font-family="&quot;Liberation Sans&quot;, sans-serif" textLength="90.6" lengthAdjust="spacingAndGlyphs" stroke="#2b3aa6" stroke-width="0.45">2 x Ø4 H7x7</text>
<line x1="1449.7" y1="705.8" x2="1542.8" y2="705.8" stroke="#2a3ca8" stroke-width="1.5" stroke-linecap="butt"/>
<line x1="1449.7" y1="705.8" x2="1376.2" y2="609" stroke="#2a3ca8" stroke-width="1.5" stroke-linecap="butt"/>
<polygon points="1376.2,609 1383.55,614.72 1379.73,617.62" fill="#2a3ca8"/>
<g transform="matrix(1 0 0 -1 0 1421.5)">
<rect x="52" y="378.5" width="25" height="38" fill="none" stroke="#111" stroke-width="1.4"/>
<rect x="61.5" y="379.3" width="15" height="36.4" fill="#111"/>
<rect x="61.5" y="392.56" width="14" height="7.6" fill="#fff"/>
<rect x="77" y="377" width="7" height="41" fill="none" stroke="#111" stroke-width="1.4"/>
<rect x="84" y="373" width="64" height="47" fill="none" stroke="#111" stroke-width="1.8"/>
<line x1="103" y1="420" x2="148" y2="373" stroke="#111" stroke-width="1.6" stroke-linecap="butt"/>
<rect x="95.5" y="443" width="200.5" height="20" fill="none" stroke="#111" stroke-width="1.8"/>
<rect x="103.5" y="421" width="45" height="41" fill="#fff"/>
<rect x="103.5" y="420" width="45" height="42.7" fill="none" stroke="#111" stroke-width="1.8"/>
<line x1="103.5" y1="424.5" x2="148.5" y2="424.5" stroke="#111" stroke-width="1.4" stroke-linecap="butt"/>
<polyline points="104,425 112.5,425 112.5,438 104,438" fill="none" stroke="#111" stroke-width="1.4" stroke-linejoin="round"/>
<polyline points="148,425 139,425 139,438 148,438" fill="none" stroke="#111" stroke-width="1.4" stroke-linejoin="round"/>
<rect x="92" y="443" width="3.5" height="99" fill="#ddd" stroke="#111" stroke-width="1.4"/>
<line x1="95.5" y1="452.6" x2="103.5" y2="452.6" stroke="#111" stroke-width="1.6" stroke-linecap="butt"/>
<line x1="148.5" y1="452.6" x2="276" y2="452.6" stroke="#111" stroke-width="1.6" stroke-linecap="butt"/>
<rect x="95.5" y="463" width="50" height="9.5" fill="none" stroke="#111" stroke-width="1.4"/>
<line x1="125" y1="463" x2="125" y2="472.5" stroke="#111" stroke-width="1.2" stroke-linecap="butt"/>
<rect x="95.5" y="512.5" width="50" height="9.5" fill="none" stroke="#111" stroke-width="1.4"/>
<line x1="125" y1="512.5" x2="125" y2="522" stroke="#111" stroke-width="1.2" stroke-linecap="butt"/>
<rect x="95.5" y="522" width="192.3" height="20" fill="none" stroke="#111" stroke-width="1.8"/>
<line x1="95.5" y1="532.6" x2="276" y2="532.6" stroke="#111" stroke-width="1.6" stroke-linecap="butt"/>
<rect x="248" y="452.6" width="28" height="9.4" fill="none" stroke="#111" stroke-width="1.2"/>
<rect x="270" y="449" width="6" height="13" fill="none" stroke="#111" stroke-width="1.4"/>
<rect x="248" y="522" width="28" height="10" fill="none" stroke="#111" stroke-width="1.2"/>
<rect x="270" y="522" width="6" height="13" fill="none" stroke="#111" stroke-width="1.4"/>
<line x1="287.8" y1="443" x2="287.8" y2="542" stroke="#111" stroke-width="1.6" stroke-linecap="butt"/>
<rect x="276" y="443" width="20" height="9" fill="none" stroke="#111" stroke-width="1.4"/>
<rect x="276" y="532" width="20" height="10" fill="none" stroke="#111" stroke-width="1.4"/>
<line x1="285.5" y1="452" x2="285.5" y2="532" stroke="#111" stroke-width="1.0" stroke-linecap="butt"/>
<path d="M273,416.5 L269,417 Q266.3,418 266.3,424.5 Q266.3,431 269,432 L273,432.5 Z" fill="#3a3a3a" stroke="#111" stroke-width="1.2" stroke-linejoin="round" />
<rect x="273" y="414.8" width="11" height="19.4" fill="#111" stroke="#111" stroke-width="1.2"/>
<rect x="284" y="416.5" width="11.5" height="16" fill="#fff" stroke="#111" stroke-width="1.6"/>
<rect x="287" y="419.5" width="6" height="10" fill="none" stroke="#111" stroke-width="1.2"/>
</g>
<path d="M331,787.5 L303.5,787.5 Q297.2,787.5 297.2,794 L297.2,1063.5 Q297.2,1069.8 303.5,1069.8 L331,1069.8" fill="none" stroke="#111" stroke-width="2.2" stroke-linejoin="round" />
<line x1="331" y1="786.4" x2="1075.4" y2="786.4" stroke="#111" stroke-width="2.8" stroke-linecap="butt"/>
<line x1="331" y1="1069.8" x2="1075.4" y2="1069.8" stroke="#111" stroke-width="2.8" stroke-linecap="butt"/>
<line x1="366.9" y1="790.2" x2="1040" y2="790.2" stroke="#111" stroke-width="1.6" stroke-linecap="butt"/>
<line x1="331" y1="786" x2="331" y2="1070" stroke="#111" stroke-width="2.2" stroke-linecap="butt"/>
<path d="M1075.4,787.5 L1095.5,787.5 Q1102,787.5 1102,794 L1102,1063 Q1102,1069.5 1095.5,1069.5 L1075.4,1069.5" fill="none" stroke="#111" stroke-width="2.4" stroke-linejoin="round" />
<line x1="1075.4" y1="786" x2="1075.4" y2="1070" stroke="#111" stroke-width="2.6" stroke-linecap="butt"/>
<line x1="1077.5" y1="790" x2="1077.5" y2="1068" stroke="#111" stroke-width="1.0" stroke-linecap="butt"/>
<path d="M366.9,789.3 L421,850.5 Q426,857.5 433,857.5 L973,857.5 Q980,857.5 985,851 L1041.4,788.1" fill="none" stroke="#111" stroke-width="2.6" stroke-linejoin="round" />
<path d="M366.9,1069.8 L422,1006.5 Q427,1000.3 435,1000.3 L972,1000.3 Q979,1000.3 984,1006.5 L1040.4,1069.4" fill="none" stroke="#111" stroke-width="2.6" stroke-linejoin="round" />
<circle cx="403.7" cy="800.6" r="5.5" fill="none" stroke="#111" stroke-width="1.8"/>
<line x1="395.2" y1="800.6" x2="412.2" y2="800.6" stroke="#111" stroke-width="1.4" stroke-linecap="butt"/>
<line x1="403.7" y1="792.1" x2="403.7" y2="809.1" stroke="#111" stroke-width="1.4" stroke-linecap="butt"/>
<circle cx="403.7" cy="1057.8" r="5.5" fill="none" stroke="#111" stroke-width="1.8"/>
<line x1="395.2" y1="1057.8" x2="412.2" y2="1057.8" stroke="#111" stroke-width="1.4" stroke-linecap="butt"/>
<line x1="403.7" y1="1049.3" x2="403.7" y2="1066.3" stroke="#111" stroke-width="1.4" stroke-linecap="butt"/>
<circle cx="574.8" cy="800.6" r="5.5" fill="none" stroke="#111" stroke-width="1.8"/>
<line x1="566.3" y1="800.6" x2="583.3" y2="800.6" stroke="#111" stroke-width="1.4" stroke-linecap="butt"/>
<line x1="574.8" y1="792.1" x2="574.8" y2="809.1" stroke="#111" stroke-width="1.4" stroke-linecap="butt"/>
<circle cx="574.8" cy="1057.8" r="5.5" fill="none" stroke="#111" stroke-width="1.8"/>
<line x1="566.3" y1="1057.8" x2="583.3" y2="1057.8" stroke="#111" stroke-width="1.4" stroke-linecap="butt"/>
<line x1="574.8" y1="1049.3" x2="574.8" y2="1066.3" stroke="#111" stroke-width="1.4" stroke-linecap="butt"/>
<circle cx="832.1" cy="800.6" r="5.5" fill="none" stroke="#111" stroke-width="1.8"/>
<line x1="823.6" y1="800.6" x2="840.6" y2="800.6" stroke="#111" stroke-width="1.4" stroke-linecap="butt"/>
<line x1="832.1" y1="792.1" x2="832.1" y2="809.1" stroke="#111" stroke-width="1.4" stroke-linecap="butt"/>
<circle cx="832.1" cy="1057.8" r="5.5" fill="none" stroke="#111" stroke-width="1.8"/>
<line x1="823.6" y1="1057.8" x2="840.6" y2="1057.8" stroke="#111" stroke-width="1.4" stroke-linecap="butt"/>
<line x1="832.1" y1="1049.3" x2="832.1" y2="1066.3" stroke="#111" stroke-width="1.4" stroke-linecap="butt"/>
<circle cx="1003.7" cy="800.6" r="5.5" fill="none" stroke="#111" stroke-width="1.8"/>
<line x1="995.2" y1="800.6" x2="1012.2" y2="800.6" stroke="#111" stroke-width="1.4" stroke-linecap="butt"/>
<line x1="1003.7" y1="792.1" x2="1003.7" y2="809.1" stroke="#111" stroke-width="1.4" stroke-linecap="butt"/>
<circle cx="1003.7" cy="1057.8" r="5.5" fill="none" stroke="#111" stroke-width="1.8"/>
<line x1="995.2" y1="1057.8" x2="1012.2" y2="1057.8" stroke="#111" stroke-width="1.4" stroke-linecap="butt"/>
<line x1="1003.7" y1="1049.3" x2="1003.7" y2="1066.3" stroke="#111" stroke-width="1.4" stroke-linecap="butt"/>
<polygon points="699.3,800.6 703.5,796.4 707.7,800.6 703.5,804.8" fill="none" stroke="#111" stroke-width="1.2"/>
<line x1="699.3" y1="800.6" x2="707.7" y2="800.6" stroke="#111" stroke-width="1.3" stroke-linecap="butt"/>
<line x1="703.5" y1="796.4" x2="703.5" y2="804.8" stroke="#111" stroke-width="1.3" stroke-linecap="butt"/>
<polygon points="699.6,1057.8 703.8,1053.6 708,1057.8 703.8,1062" fill="none" stroke="#111" stroke-width="1.2"/>
<line x1="699.6" y1="1057.8" x2="708" y2="1057.8" stroke="#111" stroke-width="1.3" stroke-linecap="butt"/>
<line x1="703.8" y1="1053.6" x2="703.8" y2="1062" stroke="#111" stroke-width="1.3" stroke-linecap="butt"/>
<circle cx="446.6" cy="929" r="3.4" fill="none" stroke="#111" stroke-width="1.6"/>
<circle cx="960.8" cy="928.8" r="3.4" fill="none" stroke="#111" stroke-width="1.6"/>
<polygon points="570.6,929 574.8,924.8 579,929 574.8,933.2" fill="none" stroke="#111" stroke-width="1.2"/>
<line x1="570.6" y1="929" x2="579" y2="929" stroke="#111" stroke-width="1.3" stroke-linecap="butt"/>
<line x1="574.8" y1="924.8" x2="574.8" y2="933.2" stroke="#111" stroke-width="1.3" stroke-linecap="butt"/>
<polygon points="827.9,928.8 832.1,924.6 836.3,928.8 832.1,933" fill="none" stroke="#111" stroke-width="1.2"/>
<line x1="827.9" y1="928.8" x2="836.3" y2="928.8" stroke="#111" stroke-width="1.3" stroke-linecap="butt"/>
<line x1="832.1" y1="924.6" x2="832.1" y2="933" stroke="#111" stroke-width="1.3" stroke-linecap="butt"/>
<circle cx="382.3" cy="839.3" r="6.6" fill="none" stroke="#111" stroke-width="1.8"/>
<circle cx="382.3" cy="839.3" r="3.8" fill="none" stroke="#111" stroke-width="1.6"/>
<circle cx="1025" cy="1019.2" r="6.6" fill="none" stroke="#111" stroke-width="1.8"/>
<circle cx="1025" cy="1019.2" r="3.8" fill="none" stroke="#111" stroke-width="1.6"/>
<path d="M584.7,1092 Q584.7,1089.6 587.5,1089.6 L590,1089.6 L590,1092.5 L600.1,1092.5 L600.1,1098.5 L590,1098.5 L590,1101.7 L587.5,1101.7 Q584.7,1101.7 584.7,1099 Z" fill="none" stroke="#111" stroke-width="1.6" stroke-linejoin="round" />
<rect x="600.1" y="1079.7" width="42.9" height="30.8" fill="none" stroke="#111" stroke-width="1.8" rx="3"/>
<rect x="643" y="1071" width="13.2" height="45" fill="none" stroke="#111" stroke-width="1.8"/>
<circle cx="649.6" cy="1076.4" r="3.2" fill="none" stroke="#111" stroke-width="1.3"/>
<circle cx="649.6" cy="1076.4" r="1.4" fill="none" stroke="#111" stroke-width="1.0"/>
<path d="M645,1090 L654,1085 L654,1098" fill="none" stroke="#111" stroke-width="1.3" stroke-linejoin="round" />
<line x1="656.2" y1="1071.4" x2="1084.7" y2="1071.4" stroke="#111" stroke-width="1.8" stroke-linecap="butt"/>
<line x1="1084.7" y1="1071.4" x2="1084.7" y2="1117" stroke="#111" stroke-width="1.8" stroke-linecap="butt"/>
<line x1="766.8" y1="1117" x2="1084.7" y2="1117" stroke="#111" stroke-width="1.8" stroke-linecap="butt"/>
<line x1="656.2" y1="1119.4" x2="766.8" y2="1119.4" stroke="#111" stroke-width="2.0" stroke-linecap="butt"/>
<line x1="656.2" y1="1071" x2="656.2" y2="1119.4" stroke="#111" stroke-width="2.0" stroke-linecap="butt"/>
<line x1="676.2" y1="1081" x2="676.2" y2="1117.6" stroke="#111" stroke-width="1.5" stroke-linecap="butt"/>
<line x1="682.2" y1="1081" x2="682.2" y2="1117.6" stroke="#111" stroke-width="1.5" stroke-linecap="butt"/>
<path d="M735.6,1076.8 L694,1076.8 Q686.4,1076.8 686.4,1085 L686.4,1107.5 Q686.4,1115.8 694,1115.8 L735.6,1115.8" fill="none" stroke="#111" stroke-width="1.6" stroke-linejoin="round" />
<path d="M764.4,1082.2 L700,1082.2 Q690,1082.2 690,1090 L690,1098 Q690,1105.6 700,1105.6 L764.4,1105.6" fill="none" stroke="#111" stroke-width="1.6" stroke-linejoin="round" />
<path d="M762,1090 L702,1090 Q696.6,1090 696.6,1094.8 Q696.6,1099.6 702,1099.6 L762,1099.6" fill="none" stroke="#111" stroke-width="1.6" stroke-linejoin="round" />
<line x1="702" y1="1094.8" x2="762" y2="1094.8" stroke="#111" stroke-width="1.2" stroke-linecap="butt"/>
<line x1="762" y1="1089" x2="762" y2="1100.5" stroke="#111" stroke-width="1.6" stroke-linecap="butt"/>
<rect x="735.6" y="1076.8" width="31.2" height="6" fill="none" stroke="#111" stroke-width="1.4"/>
<rect x="735.6" y="1110.4" width="31.2" height="6.2" fill="none" stroke="#111" stroke-width="1.4"/>
<line x1="766.8" y1="1078" x2="788.4" y2="1078" stroke="#111" stroke-width="1.4" stroke-linecap="butt"/>
<line x1="766.8" y1="1115.2" x2="788.4" y2="1115.2" stroke="#111" stroke-width="1.4" stroke-linecap="butt"/>
<line x1="727" y1="1071.4" x2="727" y2="1076.8" stroke="#111" stroke-width="1.2" stroke-linecap="butt"/>
<line x1="738" y1="1071.4" x2="738" y2="1076.8" stroke="#111" stroke-width="1.2" stroke-linecap="butt"/>
<line x1="766.8" y1="1076" x2="792" y2="1074" stroke="#111" stroke-width="1.2" stroke-linecap="butt"/>
<line x1="403.7" y1="741" x2="403.7" y2="795" stroke="#2a3ca8" stroke-width="1.5" stroke-linecap="butt"/>
<line x1="1003.7" y1="741" x2="1003.7" y2="795" stroke="#2a3ca8" stroke-width="1.5" stroke-linecap="butt"/>
<line x1="403.7" y1="746.4" x2="1003.7" y2="746.4" stroke="#2a3ca8" stroke-width="1.6" stroke-linecap="butt"/>
<polygon points="403.7,746.4 413.7,743.8 413.7,749" fill="#2a3ca8"/>
<polygon points="1003.7,746.4 993.7,749 993.7,743.8" fill="#2a3ca8"/>
<text x="701.3" y="742.2" font-size="17" fill="#2b3aa6" text-anchor="middle" font-weight="normal" font-family="&quot;Liberation Sans&quot;, sans-serif" stroke="#2b3aa6" stroke-width="0.45">C</text>
<line x1="574.8" y1="761" x2="574.8" y2="929" stroke="#2a3ca8" stroke-width="1.5" stroke-linecap="butt"/>
<line x1="832.1" y1="761" x2="832.1" y2="929" stroke="#2a3ca8" stroke-width="1.5" stroke-linecap="butt"/>
<line x1="574.8" y1="766.3" x2="832.1" y2="766.3" stroke="#2a3ca8" stroke-width="1.6" stroke-linecap="butt"/>
<polygon points="574.8,766.3 584.8,763.7 584.8,768.9" fill="#2a3ca8"/>
<polygon points="832.1,766.3 822.1,768.9 822.1,763.7" fill="#2a3ca8"/>
<text x="701.3" y="762" font-size="17" fill="#2b3aa6" text-anchor="middle" font-weight="normal" font-family="&quot;Liberation Sans&quot;, sans-serif" stroke="#2b3aa6" stroke-width="0.45">150</text>
<line x1="703.5" y1="800.6" x2="1168.8" y2="800.6" stroke="#2a3ca8" stroke-width="1.5" stroke-linecap="butt"/>
<line x1="832.1" y1="928.8" x2="1140.2" y2="928.8" stroke="#2a3ca8" stroke-width="1.5" stroke-linecap="butt"/>
<line x1="703.8" y1="1057.6" x2="1168" y2="1057.6" stroke="#2a3ca8" stroke-width="1.5" stroke-linecap="butt"/>
<line x1="1075.4" y1="784.7" x2="1168" y2="784.7" stroke="#2a3ca8" stroke-width="1.5" stroke-linecap="butt"/>
<line x1="1102" y1="1069.6" x2="1168" y2="1069.6" stroke="#2a3ca8" stroke-width="1.5" stroke-linecap="butt"/>
<line x1="1136.3" y1="784.7" x2="1136.3" y2="1069.6" stroke="#2a3ca8" stroke-width="1.5" stroke-linecap="butt"/>
<polygon points="1136.3,784.7 1138.9,794.7 1133.7,794.7" fill="#2a3ca8"/>
<polygon points="1136.3,928.7 1133.7,918.7 1138.9,918.7" fill="#2a3ca8"/>
<polygon points="1136.3,928.7 1138.9,938.7 1133.7,938.7" fill="#2a3ca8"/>
<polygon points="1136.3,1069.6 1133.7,1059.6 1138.9,1059.6" fill="#2a3ca8"/>
<line x1="1164.7" y1="735.6" x2="1164.7" y2="1128.4" stroke="#2a3ca8" stroke-width="1.5" stroke-linecap="butt"/>
<polygon points="1164.7,784.7 1162.1,774.7 1167.3,774.7" fill="#2a3ca8"/>
<polygon points="1164.7,800.3 1167.3,810.3 1162.1,810.3" fill="#2a3ca8"/>
<polygon points="1164.7,1057.6 1162.1,1047.6 1167.3,1047.6" fill="#2a3ca8"/>
<polygon points="1164.7,1069.6 1167.3,1079.6 1162.1,1079.6" fill="#2a3ca8"/>
<text x="1161.5" y="751" font-size="16.5" fill="#2b3aa6" text-anchor="middle" font-weight="normal" font-family="&quot;Liberation Sans&quot;, sans-serif" transform="rotate(-90 1161.5 751)" stroke="#2b3aa6" stroke-width="0.45">8,5</text>
<text x="1135" y="864.7" font-size="16.5" fill="#2b3aa6" text-anchor="middle" font-weight="normal" font-family="&quot;Liberation Sans&quot;, sans-serif" transform="rotate(-90 1135 864.7)" stroke="#2b3aa6" stroke-width="0.45">83,5</text>
<text x="1161.5" y="923.6" font-size="16.5" fill="#2b3aa6" text-anchor="middle" font-weight="normal" font-family="&quot;Liberation Sans&quot;, sans-serif" transform="rotate(-90 1161.5 923.6)" stroke="#2b3aa6" stroke-width="0.45">150</text>
<text x="1135" y="1000.8" font-size="16.5" fill="#2b3aa6" text-anchor="middle" font-weight="normal" font-family="&quot;Liberation Sans&quot;, sans-serif" transform="rotate(-90 1135 1000.8)" stroke="#2b3aa6" stroke-width="0.45">( 82,5 )</text>
<text x="1161.5" y="1107.4" font-size="16.5" fill="#2b3aa6" text-anchor="middle" font-weight="normal" font-family="&quot;Liberation Sans&quot;, sans-serif" transform="rotate(-90 1161.5 1107.4)" stroke="#2b3aa6" stroke-width="0.45">( 7,5 )</text>
<line x1="606.7" y1="960.9" x2="732" y2="960.9" stroke="#2a3ca8" stroke-width="1.5" stroke-linecap="butt"/>
<line x1="606.7" y1="960.9" x2="578" y2="932" stroke="#2a3ca8" stroke-width="1.5" stroke-linecap="butt"/>
<polygon points="577.5,931.5 585.56,936.17 582.17,939.56" fill="#2a3ca8"/>
<text x="608" y="956.5" font-size="16.5" fill="#2b3aa6" text-anchor="start" font-weight="normal" font-family="&quot;Liberation Sans&quot;, sans-serif" textLength="122" lengthAdjust="spacingAndGlyphs" stroke="#2b3aa6" stroke-width="0.45">4 x  Ø4 H7x7/10</text>
<polygon points="1702.8,830.5 1872.6,930.3 1869.8,966.7 1700,870" fill="#262626" stroke="#111" stroke-width="1.2" stroke-linejoin="round"/>
<polygon points="1872.6,930.3 1944.1,892.4 1951,912 1951,938 1880,968 1869.8,966.7" fill="#c2c2c2" stroke="#111" stroke-width="1.2" stroke-linejoin="round"/>
<polygon points="1862,925 1872.6,930.3 1869.8,966.7 1860,961" fill="#3a3a3a" stroke="#111" stroke-width="1.2" stroke-linejoin="round"/>
<polygon points="1769.1,792.3 1702.8,830.5 1872.6,930.3 1944.1,892.4" fill="#d4d4d4" stroke="#111" stroke-width="2.2" stroke-linejoin="round"/>
<polygon points="1743.6,846 1816.7,893.6 1817,908 1744,862" fill="#2a2a2a" stroke="#111" stroke-width="1.2" stroke-linejoin="round"/>
<polygon points="1816.7,893.6 1891.5,849.4 1892,855 1817,899" fill="#9a9a9a" stroke="#111" stroke-width="1.2" stroke-linejoin="round"/>
<polygon points="1815,806 1743.6,846 1816.7,893.6 1891.5,849.4" fill="#3c3c3c" stroke="#111" stroke-width="1.6" stroke-linejoin="round"/>
<polygon points="1744.4,847.7 1781,845.6 1821.8,869.8 1820.1,890.2 1806.5,889.3 1801.4,873.2 1772.5,857 1753.8,852.8" fill="#fafafa" stroke="#222" stroke-width="1" stroke-linejoin="round"/>
<polygon points="1809,809.5 1826,812.8 1827.7,824.7 1857.5,841.7 1881.3,844.3 1885.5,850.2 1847.3,853.6 1810.7,832.4 1807.3,827.3" fill="#fafafa" stroke="#222" stroke-width="1" stroke-linejoin="round"/>
<circle cx="1766.5" cy="850.5" r="1.7" fill="#111"/>
<circle cx="1778.5" cy="850.5" r="1.7" fill="#111"/>
<circle cx="1797" cy="861" r="1.7" fill="#111"/>
<circle cx="1791" cy="864" r="1.7" fill="#111"/>
<circle cx="1815" cy="871" r="1.7" fill="#111"/>
<circle cx="1815" cy="878" r="1.7" fill="#111"/>
<circle cx="1815" cy="837.5" r="1.7" fill="#111"/>
<circle cx="1815" cy="823" r="1.7" fill="#111"/>
<circle cx="1815" cy="829.5" r="1.7" fill="#111"/>
<circle cx="1839" cy="836" r="1.7" fill="#111"/>
<circle cx="1833" cy="839" r="1.7" fill="#111"/>
<circle cx="1852" cy="849" r="1.7" fill="#111"/>
<circle cx="1864" cy="849.5" r="1.7" fill="#111"/>
<circle cx="1843" cy="825" r="1.7" fill="#111"/>
<circle cx="1857" cy="832" r="1.7" fill="#111"/>
<circle cx="1867" cy="834" r="1.7" fill="#111"/>
<polygon points="1795,903 1872.6,948 1870,958 1795,916" fill="#1a1a1a" stroke="#111" stroke-width="1.2" stroke-linejoin="round"/>
<polygon points="1840.3,936 1857,945 1857,951 1840.3,942" fill="#f4f4f4" stroke="#222" stroke-width="0.8" stroke-linejoin="round"/>
<path d="M1673.7,819.3 L1733.2,848.5 L1748,866 L1754,895 L1752.2,913.6 L1672.5,869.8 Q1655,862 1653.5,841 Q1655,822 1673.7,819.3 Z" fill="#161616" stroke="#111" stroke-width="1.2" stroke-linejoin="round" />
<path d="M1666,836.5 Q1672,834 1680,840 L1697,852 Q1699,857 1694,857 L1675,857 Q1665,852 1664,843 Z" fill="#f2f2f2" stroke="#333" stroke-width="0.8" stroke-linejoin="round" />
<path d="M1662,842 Q1664,858 1672,862" fill="none" stroke="#444" stroke-width="1.5" stroke-linejoin="round" />
<polygon points="1752,893 1782,878 1796,903 1796,930 1790,932 1752,912" fill="#232323" stroke="#111" stroke-width="1.2" stroke-linejoin="round"/>
<polygon points="1733,850 1746,845 1795,875 1795,903 1780,880 1750,866" fill="#1c1c1c" stroke="#111" stroke-width="1.2" stroke-linejoin="round"/>
<circle cx="1738" cy="871" r="5" fill="#dfe4f2"/>
<path d="M1720,850 Q1728,846 1738,848" fill="none" stroke="#3a8ac0" stroke-width="1.2" stroke-linejoin="round" />
<circle cx="1788" cy="918" r="5" fill="none" stroke="#888" stroke-width="1.2"/>
<polygon points="1899.2,916.2 1928.7,902.2 1982,938.7 1983.4,958.3 1962.4,976.6 1920.3,965.3 1899.2,947.1" fill="#2b2b2b" stroke="#111" stroke-width="1.2" stroke-linejoin="round"/>
<ellipse cx="1970.8" cy="957" rx="12" ry="17" fill="#8d8d8d" stroke="#111" stroke-width="1.5"/>
<polygon points="1916,964 1940,958 1958,975 1958,994 1950,1000 1925,993 1914,980" fill="#1e1e1e" stroke="#111" stroke-width="1.2" stroke-linejoin="round"/>
<ellipse cx="1950" cy="992" rx="6" ry="8" fill="#333" stroke="#111" stroke-width="1"/>
<polygon points="1711,831 1721,829.5 1716.5,823.5" fill="#e0a020" stroke="#222" stroke-width="1"/>
<polygon points="1768,800.5 1778,799 1773.5,793" fill="#e0a020" stroke="#222" stroke-width="1"/>
<polygon points="1867.5,924 1877.5,922.5 1873,916.5" fill="#e0a020" stroke="#222" stroke-width="1"/>
<polygon points="1921,890 1931,888.5 1926.5,882.5" fill="#e0a020" stroke="#222" stroke-width="1"/>
<text x="1876.5" y="801.4" font-size="16.5" fill="#111" text-anchor="start" font-weight="bold" font-family="&quot;Liberation Sans&quot;, sans-serif" textLength="46" lengthAdjust="spacingAndGlyphs" stroke="#111" stroke-width="0.2">L-417</text>
<text x="1923" y="801.4" font-size="16.5" fill="#111" text-anchor="start" font-weight="normal" font-family="&quot;Liberation Sans&quot;, sans-serif" textLength="33" lengthAdjust="spacingAndGlyphs" stroke="#111" stroke-width="0.45">.xxxx</text>
<text x="1956" y="801.4" font-size="16.5" fill="#111" text-anchor="start" font-weight="bold" font-family="&quot;Liberation Sans&quot;, sans-serif" textLength="38" lengthAdjust="spacingAndGlyphs" stroke="#111" stroke-width="0.2">11E1</text>
<text x="1876.5" y="817.2" font-size="16.5" fill="#111" text-anchor="start" font-weight="bold" font-family="&quot;Liberation Sans&quot;, sans-serif" textLength="46" lengthAdjust="spacingAndGlyphs" stroke="#111" stroke-width="0.2">L-417</text>
<text x="1923" y="817.2" font-size="16.5" fill="#111" text-anchor="start" font-weight="normal" font-family="&quot;Liberation Sans&quot;, sans-serif" textLength="33" lengthAdjust="spacingAndGlyphs" stroke="#111" stroke-width="0.45">.xxxx</text>
<text x="1956" y="817.2" font-size="16.5" fill="#111" text-anchor="start" font-weight="bold" font-family="&quot;Liberation Sans&quot;, sans-serif" textLength="38" lengthAdjust="spacingAndGlyphs" stroke="#111" stroke-width="0.2">25E1</text>
<line x1="1672.5" y1="839" x2="1672.5" y2="906" stroke="#2a3ca8" stroke-width="1.5" stroke-linecap="butt"/>
<line x1="1701.4" y1="868" x2="1701.4" y2="923" stroke="#2a3ca8" stroke-width="1.5" stroke-linecap="butt"/>
<line x1="1649" y1="895.6" x2="1701.7" y2="920.3" stroke="#2a3ca8" stroke-width="1.5" stroke-linecap="butt"/>
<polygon points="1672.5,906.4 1680.76,907.61 1678.74,911.96" fill="#2a3ca8"/>
<polygon points="1701.4,919.9 1693.14,918.69 1695.16,914.34" fill="#2a3ca8"/>
<text x="1657" y="888" font-size="16" fill="#2b3aa6" text-anchor="middle" font-weight="normal" font-family="&quot;Liberation Sans&quot;, sans-serif" transform="rotate(25 1657 888)" stroke="#2b3aa6" stroke-width="0.45">F</text>
<line x1="1781.7" y1="931.5" x2="1781.7" y2="962.3" stroke="#2a3ca8" stroke-width="1.5" stroke-linecap="butt"/>
<line x1="1795" y1="925.9" x2="1795" y2="955" stroke="#2a3ca8" stroke-width="1.5" stroke-linecap="butt"/>
<line x1="1746.6" y1="979.2" x2="1811.1" y2="942" stroke="#2a3ca8" stroke-width="1.5" stroke-linecap="butt"/>
<polygon points="1781.7,961 1775.97,967.08 1773.57,962.92" fill="#2a3ca8"/>
<polygon points="1795,953.4 1800.73,947.32 1803.13,951.48" fill="#2a3ca8"/>
<text x="1763" y="965" font-size="16" fill="#2b3aa6" text-anchor="middle" font-weight="normal" font-family="&quot;Liberation Sans&quot;, sans-serif" transform="rotate(-30 1763 965)" stroke="#2b3aa6" stroke-width="0.45">E</text>
<line x1="1897.8" y1="952" x2="1897.8" y2="1000" stroke="#2a3ca8" stroke-width="1.5" stroke-linecap="butt"/>
<line x1="1956" y1="992.9" x2="1956" y2="1033.5" stroke="#2a3ca8" stroke-width="1.5" stroke-linecap="butt"/>
<line x1="1897.8" y1="998.5" x2="1956" y2="1030.7" stroke="#2a3ca8" stroke-width="1.5" stroke-linecap="butt"/>
<polygon points="1897.8,998.5 1905.96,1000.28 1903.63,1004.48" fill="#2a3ca8"/>
<polygon points="1956,1030.7 1947.84,1028.92 1950.17,1024.72" fill="#2a3ca8"/>
<text x="1926" y="1007" font-size="16" fill="#2b3aa6" text-anchor="middle" font-weight="normal" font-family="&quot;Liberation Sans&quot;, sans-serif" transform="rotate(29 1926 1007)" stroke="#2b3aa6" stroke-width="0.45">D1</text>
<polygon points="1671.5,1132.9 1840,1236 1841.4,1267 1666.4,1167.5" fill="#262626" stroke="#111" stroke-width="1.2" stroke-linejoin="round"/>
<polygon points="1840,1236 1912.5,1196 1920.7,1218.3 1919,1238 1872,1263 1841.4,1267" fill="#c4c4c4" stroke="#111" stroke-width="1.2" stroke-linejoin="round"/>
<polygon points="1830,1230 1840,1236 1841.4,1267 1830,1261" fill="#3a3a3a" stroke="#111" stroke-width="1.2" stroke-linejoin="round"/>
<polygon points="1739.7,1094.2 1671.5,1132.9 1840,1236 1912.5,1196" fill="#d4d4d4" stroke="#111" stroke-width="2.2" stroke-linejoin="round"/>
<path d="M1671.5,1132.9 L1739.7,1094.2 L1745,1098 L1677,1140 L1672,1168 L1666.4,1167.5 L1667,1140 Z" fill="#3a3a3a" stroke="#111" stroke-width="1.2" stroke-linejoin="round" />
<polygon points="1707.1,1147.1 1788.5,1200 1788.5,1218 1708,1167" fill="#2a2a2a" stroke="#111" stroke-width="1.2" stroke-linejoin="round"/>
<polygon points="1788.5,1200 1862.7,1152.2 1863,1157 1789,1205" fill="#9a9a9a" stroke="#111" stroke-width="1.2" stroke-linejoin="round"/>
<polygon points="1784.4,1107.5 1707.1,1147.1 1788.5,1200 1862.7,1152.2" fill="#3c3c3c" stroke="#111" stroke-width="1.6" stroke-linejoin="round"/>
<polygon points="1710,1149 1720,1145 1750,1150 1762,1165 1787,1175 1789,1196 1772,1194 1770,1180 1740,1166 1712,1156" fill="#fafafa" stroke="#222" stroke-width="1" stroke-linejoin="round"/>
<polygon points="1782,1110 1793,1111 1797,1132 1822,1143 1850,1150 1861,1153 1850,1159 1825,1155 1808,1149 1790,1141 1782,1130" fill="#fafafa" stroke="#222" stroke-width="1" stroke-linejoin="round"/>
<circle cx="1730" cy="1151" r="1.6" fill="#111"/>
<circle cx="1738" cy="1152" r="1.6" fill="#111"/>
<circle cx="1760" cy="1160" r="1.6" fill="#111"/>
<circle cx="1768" cy="1165" r="1.6" fill="#111"/>
<circle cx="1776" cy="1180" r="1.6" fill="#111"/>
<circle cx="1780" cy="1190" r="1.6" fill="#111"/>
<circle cx="1786" cy="1188" r="1.6" fill="#111"/>
<circle cx="1785" cy="1115" r="1.6" fill="#111"/>
<circle cx="1786" cy="1125" r="1.6" fill="#111"/>
<circle cx="1800" cy="1138" r="1.6" fill="#111"/>
<circle cx="1808" cy="1140" r="1.6" fill="#111"/>
<circle cx="1832" cy="1151" r="1.6" fill="#111"/>
<circle cx="1840" cy="1152" r="1.6" fill="#111"/>
<polygon points="1700,1160 1840,1245 1840,1258 1700,1175" fill="#1a1a1a" stroke="#111" stroke-width="1.2" stroke-linejoin="round"/>
<polygon points="1812,1240 1827,1248 1827,1255 1812,1247" fill="#c8d0f0" stroke="#222" stroke-width="0.8" stroke-linejoin="round"/>
<polygon points="1869.8,1218.3 1900,1205 1960,1240 1967.5,1250 1966,1282 1945,1287 1904.4,1287.5 1880,1265 1870,1245" fill="#2b2b2b" stroke="#111" stroke-width="1.2" stroke-linejoin="round"/>
<ellipse cx="1954.2" cy="1268" rx="12" ry="17" fill="#7a7a7a" stroke="#111" stroke-width="1.5"/>
<polygon points="1880,1245 1910,1238 1925,1258 1925,1285 1905,1289 1880,1275" fill="#1f1f1f" stroke="#111" stroke-width="1.2" stroke-linejoin="round"/>
<polygon points="1683,1136 1693,1134.5 1688.5,1128" fill="#dfe3f5" stroke="#222" stroke-width="1"/>
<polygon points="1736,1104 1746,1102.5 1741.5,1096" fill="#dfe3f5" stroke="#222" stroke-width="1"/>
<polygon points="1833,1227 1843,1225.5 1838.5,1219" fill="#dfe3f5" stroke="#222" stroke-width="1"/>
<polygon points="1893,1194 1903,1192.5 1898.5,1186" fill="#dfe3f5" stroke="#222" stroke-width="1"/>
<text x="1869.8" y="1142" font-size="16.5" fill="#111" text-anchor="start" font-weight="bold" font-family="&quot;Liberation Sans&quot;, sans-serif" textLength="45" lengthAdjust="spacingAndGlyphs" stroke="#111" stroke-width="0.2">L-417</text>
<text x="1915" y="1142" font-size="16.5" fill="#111" text-anchor="start" font-weight="normal" font-family="&quot;Liberation Sans&quot;, sans-serif" textLength="50" lengthAdjust="spacingAndGlyphs" stroke="#111" stroke-width="0.45">.xxxxxx</text>
<line x1="1866.8" y1="1248.8" x2="1866.8" y2="1312" stroke="#2a3ca8" stroke-width="1.5" stroke-linecap="butt"/>
<line x1="1942" y1="1283.4" x2="1942" y2="1354.6" stroke="#2a3ca8" stroke-width="1.5" stroke-linecap="butt"/>
<line x1="1866.8" y1="1309.8" x2="1942" y2="1351.5" stroke="#2a3ca8" stroke-width="1.5" stroke-linecap="butt"/>
<polygon points="1866.8,1309.8 1874.96,1311.58 1872.63,1315.78" fill="#2a3ca8"/>
<polygon points="1942,1351.5 1933.84,1349.72 1936.17,1345.52" fill="#2a3ca8"/>
<text x="1900" y="1324.5" font-size="16" fill="#2b3aa6" text-anchor="middle" font-weight="normal" font-family="&quot;Liberation Sans&quot;, sans-serif" transform="rotate(29 1900 1324.5)" stroke="#2b3aa6" stroke-width="0.45">D2</text>
</svg>
</body></html>
